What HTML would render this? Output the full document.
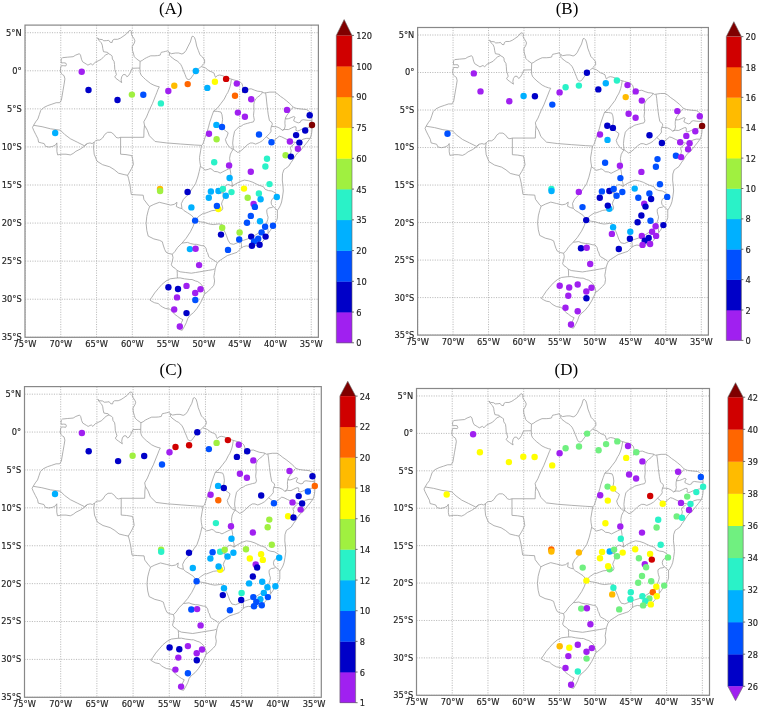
<!DOCTYPE html>
<html><head><meta charset="utf-8"><title>Brazil maps</title>
<style>html,body{margin:0;padding:0;background:#fff;width:760px;height:710px;overflow:hidden}svg{display:block}</style>
</head><body>
<svg width="760" height="710" viewBox="0 0 760 710">
<clipPath id="clipA"><rect x="25.0" y="25.1" width="293.4" height="312.2"/></clipPath>
<path d="M25.00 25.10V337.30M60.78 25.10V337.30M96.56 25.10V337.30M132.34 25.10V337.30M168.12 25.10V337.30M203.90 25.10V337.30M239.68 25.10V337.30M275.46 25.10V337.30M311.24 25.10V337.30M25.00 32.71H318.40M25.00 70.79H318.40M25.00 108.86H318.40M25.00 146.93H318.40M25.00 185.01H318.40M25.00 223.08H318.40M25.00 261.15H318.40M25.00 299.23H318.40M25.00 337.30H318.40" stroke="#a8a8a8" stroke-width="0.8" stroke-dasharray="1.1 1.35" fill="none" clip-path="url(#clipA)"/>
<g clip-path="url(#clipA)"><g transform="translate(25.000 25.100) scale(1.00000 1.00000) translate(-25.000 -25.100)"><path d="M108.5 53.6 105.7 54.9 103.8 56.6 101.3 59.3 96.9 61.5 95.2 62.2 92.6 65.1 91.0 63.6 87.9 65.1 86.3 64.1 82.6 61.8 81.5 59.3 80.5 55.1 79.4 53.7 75.7 55.1 73.1 56.7 67.3 57.2 62.5 57.7 61.4 58.8 61.1 60.9 61.4 63.0 63.6 62.8 65.7 63.0 66.4 64.6 65.7 66.0 63.6 65.7 61.4 65.7 60.7 67.3 60.4 70.4 60.9 73.1 62.5 74.6 64.1 75.7 64.9 78.9 64.1 84.2 63.0 90.5 61.4 100.0 59.7 102.7 56.2 102.7 51.9 104.2 47.7 105.6 43.5 107.7 40.7 110.5 39.3 114.7 37.9 118.9 35.7 121.8 33.6 125.3 32.5 127.4 33.6 130.2 35.7 134.4 37.9 138.7 38.6 142.2 41.4 142.9 44.2 143.6 45.6 146.4 49.1 147.1 52.6 146.4 55.5 145.0 56.9 142.9 56.9 147.1 56.9 151.3 57.6 154.9 61.8 154.2 66.0 154.2 70.3 154.9 73.1 153.5 75.9 151.3 80.1 149.2 84.3 146.4 87.2 143.6 90.0 142.9 92.1 143.6 94.2 142.2 93.5 147.1 94.2 154.2 97.0 161.2 102.6 164.7 109.7 166.8 114.2 169.6 118.5 173.2 124.1 174.6 127.6 175.3 128.5 178.3 129.9 184.6 130.6 189.6 131.3 194.5 136.9 194.9 143.2 195.2 143.9 199.4 148.2 205.1 149.6 206.5 148.2 210.7 146.8 216.3 146.1 223.4 146.8 230.4 148.2 236.1 153.8 238.9 159.4 240.3 162.3 241.7 163.2 245.0 164.6 249.3 166.0 252.1 168.8 253.5 172.3 254.2 173.0 257.7 172.3 261.2 171.3 264.8 172.7 266.9 175.1 268.3 177.0 270.4 177.3 273.2 177.3 276.7 177.5 278.0 175.8 278.1 170.2 278.8 166.0 281.0 161.8 284.5 158.2 288.7 154.7 292.9 151.9 297.2 149.8 300.0 151.9 301.4 154.7 302.8 158.2 303.5 160.4 305.6 162.5 307.0 165.3 308.4 169.5 309.1 172.3 311.2 174.4 314.1 177.3 316.2 180.1 318.3 182.9 319.7 181.5 322.5 179.4 329.5M108.5 53.6 107.7 52.4 103.5 51.7 102.8 48.7 102.3 45.2 101.3 42.8 99.3 40.8 97.4 37.9M97.4 37.9 99.3 39.3 102.3 39.6 103.8 40.8 106.7 40.6 108.7 40.3 110.2 42.3 112.1 42.5 112.6 40.3 114.1 39.3 117.6 39.3 120.5 38.1 123.0 36.4 126.4 34.0 129.0 30.8 130.6 30.5 131.7 31.9 131.5 34.5 132.2 36.1 133.8 38.2 134.9 40.8 134.3 43.0 132.2 46.7 132.5 50.4 133.6 54.0 134.3 56.7 136.4 58.8 140.1 61.4M140.1 61.4 142.3 60.4 144.4 58.8 146.5 57.7 148.6 56.7 150.7 55.8 154.9 55.8 157.6 55.6 160.2 55.1 160.7 53.5 161.3 52.3 163.4 51.9 165.5 51.4 167.6 50.9 169.5 52.5M169.5 52.5 171.3 53.7 175.6 53.0 178.7 53.0 181.9 54.0 184.0 53.0 186.1 50.4 188.2 46.1 190.4 41.9 191.9 36.6 193.0 36.1 194.6 37.7 195.6 40.8 196.7 46.1 198.3 50.4 199.9 54.6 201.4 56.2 203.0 57.7 204.6 59.9 204.6 63.0 203.0 64.6 201.4 66.2 199.3 68.3 196.7 70.4 195.1 72.5 193.5 74.6 191.9 76.8 190.4 78.9 188.8 79.6 187.2 79.1 186.1 77.3 185.1 74.6 184.0 72.0 183.0 69.4 181.9 66.7 180.8 64.6 179.3 62.8 177.1 60.9 175.0 59.9 172.9 58.3 170.8 56.7 169.4 55.1 169.5 52.5M201.4 66.7 203.6 67.3 205.7 68.1 207.3 69.4 209.4 71.0 212.0 72.0 214.1 73.1 214.6 75.2 215.5 77.3 217.3 75.7 219.4 75.0 222.0 75.5 224.7 76.5 227.3 77.6 230.0 78.7 233.9 79.9 237.9 81.1 240.3 82.1 242.0 83.8 242.8 86.5 243.0 90.5 242.3 93.0 244.0 91.0 246.5 89.5 249.2 89.0 251.2 88.8 254.6 90.2 257.6 91.2 260.5 91.5 262.5 92.0 264.0 93.0 266.7 92.6 269.9 92.1 274.6 92.1 277.3 93.7 280.4 96.3 283.6 98.5 286.5 100.8 289.3 103.2 291.5 105.3 293.3 107.2 296.2 108.3 300.0 108.9 304.0 109.3 306.6 109.6 308.3 110.6 310.3 112.3 311.3 114.1 311.7 116.9 312.0 119.7 311.7 122.5 311.7 125.4 312.0 128.2 311.9 131.0 311.5 133.8 311.0 136.0 310.2 138.2 309.0 139.8 307.3 142.1 305.0 144.9 302.8 147.7 300.5 150.5 297.7 152.8 295.5 155.6 293.4 159.2 291.0 162.5 288.7 166.2 285.5 168.5 283.9 169.6 282.5 173.8 282.3 180.0 282.9 185.1 283.3 191.0 282.5 196.9 281.6 202.0 280.4 205.4 279.1 207.9 277.4 210.4 277.4 213.8 277.4 218.0 276.6 220.6 275.3 222.3 273.2 225.6 270.2 230.7 267.7 234.1 266.0 237.0 263.2 241.0 260.5 243.5 257.5 245.0 254.7 245.9 251.9 246.3 249.1 246.3 246.3 245.9 243.5 246.6 241.3 248.0 239.2 250.1 237.1 252.3 235.0 253.0 231.5 254.2 227.3 255.6 223.0 258.4 218.8 261.2 216.7 264.0 215.3 268.2 214.6 272.5 213.9 276.7 214.6 280.9 213.9 285.1 211.5 288.0 208.5 290.8 206.1 293.0 204.7 293.6 202.6 298.6 200.5 302.8 197.0 308.4 193.5 312.6 189.9 315.5 187.8 318.3 186.4 322.5 184.3 326.7 182.2 330.3 179.4 329.5M108.5 53.6 111.2 55.1 112.1 56.1 112.4 59.0 114.1 61.5 114.5 64.5 114.8 69.4 115.8 72.5 116.4 74.6 114.8 76.8 115.8 78.3 118.0 79.9 119.5 81.0 121.7 82.6 121.1 79.9 121.7 76.8 123.2 74.6 125.4 74.6 126.9 76.8 128.5 75.7 130.1 73.1 131.2 70.4 132.2 68.3 137.5 68.1 139.9 68.1M140.1 61.4 139.9 68.1M139.9 68.1 140.1 72.5 141.2 75.2 143.3 77.3 145.4 79.4 148.1 81.5 150.7 83.6 153.9 85.2 157.0 86.3 159.3 86.8 158.0 89.4 156.8 92.6 155.5 95.8 152.4 103.7 149.6 109.5 148.0 113.3 146.5 117.0 143.8 121.8 144.5 125.3M144.5 125.3 144.0 130.0 143.8 137.3 120.6 137.3M120.6 137.3 118.1 138.0 116.0 137.3 113.9 134.4 111.1 132.3 107.6 132.3 104.8 134.4 102.6 138.0 99.8 140.1 97.0 140.1 95.6 140.8 94.2 142.2M33.6 125.3 42.1 126.7 50.5 128.8 60.4 130.2 64.6 134.4 70.3 138.7 77.3 142.2 84.3 145.7 87.2 143.6M120.6 137.3 120.6 154.2 126.0 154.6 131.8 155.6 132.5 158.5 133.4 164.5 131.5 168.5 130.2 171.0 127.6 175.3M144.5 125.3 147.3 130.2 149.4 135.8 155.1 141.5 166.3 142.9 180.4 144.0 194.5 145.0 201.5 145.4M231.4 79.4 230.7 83.8 230.0 86.8 229.0 89.7 227.8 92.5 226.5 94.5 224.3 99.0 220.9 103.5 217.5 108.0 213.6 111.2M213.6 111.2 211.9 115.9 209.6 122.7 208.5 127.2 206.8 132.8 205.1 137.3 202.9 144.1 201.5 145.4 200.6 150.8 199.5 157.6 199.8 161.5 200.5 165.8 199.2 171.5 197.8 177.0 195.5 183.8 192.5 188.1 189.8 192.3 187.3 195.3 183.4 199.4 181.3 203.7 182.0 208.6M200.5 166.5 203.0 168.2 205.0 170.1 208.4 169.3 210.1 168.5 211.8 169.3 214.3 171.4 217.7 171.8 220.2 173.1 222.8 171.8 226.1 170.1 228.7 168.9 229.9 168.5M233.3 149.2 231.8 151.3 230.4 154.1 229.6 158.3 230.2 162.5 229.9 168.5M229.9 168.5 230.4 171.0 230.8 173.5 230.6 177.0 231.2 180.3 232.1 182.8 232.5 186.2M149.6 206.5 153.8 204.4 159.4 202.3 165.1 203.7 170.7 205.1 174.2 204.4 177.0 202.3 176.3 206.5 179.2 207.9 182.0 208.6M182.0 208.6 184.1 210.7 187.6 212.8 191.8 215.6 195.2 219.8M195.2 219.8 193.2 226.2 190.4 231.8 186.2 238.2 182.0 243.1 177.7 247.3 174.9 251.5 172.3 254.2M195.2 219.8 199.1 216.1 203.3 213.3 205.0 213.3 208.4 212.0 211.8 210.7 215.1 210.3 218.5 210.3 221.9 210.3 222.8 208.2 222.3 206.1 221.5 204.0 222.3 201.4 223.6 198.9 223.2 196.3 223.2 193.0 224.0 190.0 224.9 187.9 225.3 185.8 227.0 184.9 228.7 184.5 230.4 185.4 232.5 186.2M195.2 220.6 200.5 221.8 204.7 222.5 208.9 223.9 213.2 224.6 218.8 223.9 222.3 224.6 223.0 228.8 225.1 232.3 226.5 235.8 228.0 240.1 230.1 243.6 233.6 244.3 237.1 242.9 239.2 241.7 243.5 240.3 247.7 238.9 250.5 237.5M250.5 237.5 254.3 235.8 258.5 233.0 262.7 230.1 265.6 228.7 267.0 226.0M240.8 241.4 241.5 244.5 241.3 248.0M273.2 206.6 271.9 207.5 269.0 207.9 266.8 209.6 266.8 212.1 267.3 214.7 268.1 217.2 267.7 219.7 266.8 222.3 266.3 224.5 267.0 226.0M273.2 206.6 275.5 208.5 277.4 210.4M267.0 226.0 268.0 229.5 268.1 233.2M231.8 186.5 236.0 183.7 240.2 181.5 244.4 180.1 248.7 180.8 252.9 182.3 258.5 185.1 260.1 185.5 263.5 186.8 265.1 189.3 268.5 190.6 271.9 191.0 274.9 192.7 276.1 194.0 274.0 197.8 271.9 199.4 271.1 202.0 271.5 204.5 273.2 206.6M265.6 92.9 266.2 96.9 266.7 102.1 267.2 106.4 267.7 110.6 268.3 114.8 269.4 120.5 272.0 122.7 272.3 124.4 271.4 126.4M262.5 92.0 262.0 93.2 260.2 95.2 257.4 97.3 255.6 99.0 254.3 101.8 253.8 104.6 254.0 110.5 253.5 115.3 253.9 117.6 254.3 119.9 253.4 121.9 250.5 122.5 247.7 123.3 245.7 123.8 243.5 124.5 241.2 126.1 239.2 126.8 237.2 128.4 234.6 131.3 233.3 137.3 232.7 143.0 233.3 149.2M213.6 111.2 217.5 111.4 220.9 112.0 222.0 114.8 222.6 119.3 222.0 123.8 223.7 129.4 226.0 131.1 228.2 132.8 227.1 136.2 225.4 139.6 226.5 143.0 228.8 146.3 231.1 148.6 233.3 149.2M233.3 149.2 235.6 150.8 237.8 152.5 240.1 151.4 243.5 148.6 246.8 145.2 250.2 143.0 252.8 143.0 255.6 144.1 259.6 142.4 262.4 140.7 264.6 138.5 266.3 136.8 268.0 135.1 269.7 133.4 271.1 131.2 270.8 128.9 271.4 126.4M266.3 136.8 269.2 139.0 271.5 140.8 273.7 140.7 275.9 139.0 279.3 136.2 281.5 136.8 284.9 138.5 287.2 139.6 290.0 141.0 293.0 142.0 296.5 142.6M296.5 142.6 300.5 141.0 302.8 139.3 306.2 138.4 309.5 138.4 310.2 138.2M296.5 142.6 298.5 145.5 300.5 148.5 301.0 150.3M294.5 143.5 293.2 144.9 291.0 146.6 290.4 148.3 291.2 150.5 291.0 152.0 290.3 154.0 291.5 156.0 293.4 159.0M271.4 126.4 274.2 126.6 277.0 126.9 279.9 128.3 282.4 130.3M282.4 130.3 284.4 128.9 285.2 126.0 284.9 123.5 285.0 120.5 285.6 117.6M285.6 117.6 287.0 115.1 289.1 112.3 291.2 109.2 293.0 107.4M285.6 117.6 286.0 119.0 288.4 118.7 291.2 117.6 293.7 116.5 295.1 117.3 294.1 119.0 293.7 120.8 295.5 121.8 298.3 122.9 300.4 122.2 301.1 120.4 303.2 119.7 306.0 120.1 308.8 120.4 311.7 120.4M282.4 130.3 284.9 129.4 288.4 129.6 291.2 128.2 294.1 126.8 295.8 126.8 296.2 128.2 295.8 130.3 297.6 131.0 299.7 130.3 302.5 128.9 305.3 128.2 307.4 127.5 309.5 127.1 311.7 127.1M182.0 243.1 187.6 242.4 190.6 243.6 194.2 244.3 196.3 244.3 201.9 245.7 204.0 245.7 206.1 248.5 206.8 252.0 207.5 252.7 208.9 257.0 209.6 257.7 213.2 259.8 215.3 261.2 216.7 262.6M177.0 270.4 180.1 271.8 185.7 272.5 191.3 273.2 195.6 272.5 199.8 271.8 204.0 271.1 208.2 270.4 212.5 269.7 214.6 268.9M177.5 278.0 180.1 277.9 184.3 278.8 189.9 279.5 192.0 279.5 195.6 281.0 197.7 281.6 199.8 283.1 201.9 285.1 202.6 286.6 204.0 289.4 204.7 292.2 204.7 293.6M216.3 188.8 222.9 188.8 222.9 192.9 216.3 192.9 216.3 188.8" fill="none" stroke="#9c9c9c" stroke-width="0.8" stroke-linejoin="round" vector-effect="non-scaling-stroke"/></g></g>
<g><circle cx="81.7" cy="71.7" r="3.2" fill="#a020f0"/><circle cx="88.5" cy="90.0" r="3.2" fill="#0000c8"/><circle cx="117.5" cy="100.0" r="3.2" fill="#0000c8"/><circle cx="131.9" cy="94.6" r="3.2" fill="#a0f040"/><circle cx="143.3" cy="94.8" r="3.2" fill="#0050ff"/><circle cx="160.9" cy="103.4" r="3.2" fill="#2af2c8"/><circle cx="168.3" cy="91.0" r="3.2" fill="#a020f0"/><circle cx="174.3" cy="85.8" r="3.2" fill="#ffbb00"/><circle cx="187.7" cy="84.1" r="3.2" fill="#ff6600"/><circle cx="195.8" cy="71.0" r="3.2" fill="#00b0ff"/><circle cx="207.3" cy="87.9" r="3.2" fill="#00b0ff"/><circle cx="214.9" cy="81.7" r="3.2" fill="#ffff00"/><circle cx="226.1" cy="78.9" r="3.2" fill="#d00000"/><circle cx="236.8" cy="83.6" r="3.2" fill="#a020f0"/><circle cx="235.0" cy="95.7" r="3.2" fill="#ff6600"/><circle cx="245.1" cy="90.0" r="3.2" fill="#0000c8"/><circle cx="251.2" cy="99.3" r="3.2" fill="#a020f0"/><circle cx="237.9" cy="112.6" r="3.2" fill="#a020f0"/><circle cx="244.9" cy="116.7" r="3.2" fill="#a020f0"/><circle cx="287.0" cy="109.9" r="3.2" fill="#a020f0"/><circle cx="309.7" cy="115.2" r="3.2" fill="#0000c8"/><circle cx="312.0" cy="125.0" r="3.2" fill="#800000"/><circle cx="305.2" cy="130.5" r="3.2" fill="#0000c8"/><circle cx="296.1" cy="135.1" r="3.2" fill="#0000c8"/><circle cx="259.0" cy="134.5" r="3.2" fill="#0050ff"/><circle cx="271.5" cy="142.3" r="3.2" fill="#0050ff"/><circle cx="289.9" cy="141.5" r="3.2" fill="#a020f0"/><circle cx="299.4" cy="142.6" r="3.2" fill="#0000c8"/><circle cx="297.9" cy="148.7" r="3.2" fill="#a020f0"/><circle cx="285.6" cy="155.3" r="3.2" fill="#a0f040"/><circle cx="290.9" cy="156.6" r="3.2" fill="#0000c8"/><circle cx="55.2" cy="133.0" r="3.2" fill="#00b0ff"/><circle cx="216.4" cy="124.9" r="3.2" fill="#00b0ff"/><circle cx="222.0" cy="127.0" r="3.2" fill="#0050ff"/><circle cx="209.0" cy="133.7" r="3.2" fill="#a020f0"/><circle cx="216.6" cy="139.2" r="3.2" fill="#a0f040"/><circle cx="214.2" cy="162.3" r="3.2" fill="#2af2c8"/><circle cx="229.1" cy="165.4" r="3.2" fill="#a020f0"/><circle cx="267.0" cy="158.7" r="3.2" fill="#2af2c8"/><circle cx="265.4" cy="166.5" r="3.2" fill="#2af2c8"/><circle cx="250.8" cy="171.7" r="3.2" fill="#a020f0"/><circle cx="229.6" cy="178.0" r="3.2" fill="#00b0ff"/><circle cx="269.5" cy="184.1" r="3.2" fill="#2af2c8"/><circle cx="244.0" cy="188.6" r="3.2" fill="#ffff00"/><circle cx="210.9" cy="191.5" r="3.2" fill="#00b0ff"/><circle cx="218.5" cy="191.0" r="3.2" fill="#00b0ff"/><circle cx="222.9" cy="189.0" r="3.2" fill="#2af2c8"/><circle cx="231.5" cy="192.1" r="3.2" fill="#2af2c8"/><circle cx="225.8" cy="195.8" r="3.2" fill="#00b0ff"/><circle cx="208.8" cy="197.8" r="3.2" fill="#00b0ff"/><circle cx="258.9" cy="193.5" r="3.2" fill="#2af2c8"/><circle cx="247.7" cy="197.8" r="3.2" fill="#a0f040"/><circle cx="260.6" cy="199.2" r="3.2" fill="#00b0ff"/><circle cx="276.8" cy="197.0" r="3.2" fill="#00b0ff"/><circle cx="253.6" cy="203.9" r="3.2" fill="#a020f0"/><circle cx="254.9" cy="206.9" r="3.2" fill="#0050ff"/><circle cx="218.4" cy="209.1" r="3.2" fill="#ffff00"/><circle cx="216.9" cy="205.9" r="3.2" fill="#0050ff"/><circle cx="191.4" cy="207.4" r="3.2" fill="#00b0ff"/><circle cx="187.6" cy="192.0" r="3.2" fill="#0000c8"/><circle cx="160.0" cy="188.9" r="3.2" fill="#ffbb00"/><circle cx="160.1" cy="191.0" r="3.2" fill="#a0f040"/><circle cx="195.1" cy="220.6" r="3.2" fill="#0050ff"/><circle cx="250.8" cy="215.9" r="3.2" fill="#0050ff"/><circle cx="247.0" cy="222.8" r="3.2" fill="#0050ff"/><circle cx="260.0" cy="221.2" r="3.2" fill="#00b0ff"/><circle cx="265.1" cy="226.8" r="3.2" fill="#0050ff"/><circle cx="273.0" cy="225.7" r="3.2" fill="#0050ff"/><circle cx="222.2" cy="227.8" r="3.2" fill="#a0f040"/><circle cx="221.0" cy="234.6" r="3.2" fill="#0000c8"/><circle cx="239.6" cy="232.5" r="3.2" fill="#a0f040"/><circle cx="239.2" cy="239.5" r="3.2" fill="#0050ff"/><circle cx="261.6" cy="232.4" r="3.2" fill="#0050ff"/><circle cx="251.2" cy="236.6" r="3.2" fill="#0000c8"/><circle cx="258.2" cy="238.7" r="3.2" fill="#0050ff"/><circle cx="265.6" cy="236.6" r="3.2" fill="#0000c8"/><circle cx="254.1" cy="241.5" r="3.2" fill="#0050ff"/><circle cx="251.9" cy="245.8" r="3.2" fill="#0000c8"/><circle cx="259.6" cy="244.8" r="3.2" fill="#0000c8"/><circle cx="228.0" cy="249.9" r="3.2" fill="#0050ff"/><circle cx="189.9" cy="249.1" r="3.2" fill="#00b0ff"/><circle cx="195.6" cy="248.7" r="3.2" fill="#a020f0"/><circle cx="199.1" cy="265.1" r="3.2" fill="#a020f0"/><circle cx="168.4" cy="287.3" r="3.2" fill="#0000c8"/><circle cx="178.0" cy="289.0" r="3.2" fill="#0000c8"/><circle cx="186.5" cy="285.9" r="3.2" fill="#a020f0"/><circle cx="200.5" cy="289.3" r="3.2" fill="#a020f0"/><circle cx="195.2" cy="293.0" r="3.2" fill="#a020f0"/><circle cx="177.0" cy="297.4" r="3.2" fill="#a020f0"/><circle cx="195.3" cy="300.0" r="3.2" fill="#0050ff"/><circle cx="174.2" cy="309.5" r="3.2" fill="#a020f0"/><circle cx="186.5" cy="313.1" r="3.2" fill="#0000c8"/><circle cx="179.8" cy="326.5" r="3.2" fill="#a020f0"/></g>
<rect x="25.0" y="25.1" width="293.4" height="312.2" fill="none" stroke="#888888" stroke-width="1.2"/>
<g font-family="'DejaVu Sans Condensed', 'DejaVu Sans', sans-serif" font-size="9.2" font-stretch="condensed" fill="#222" stroke="#222" stroke-width="0.15"><text x="21.7" y="35.6" text-anchor="end">5°N</text><text x="21.7" y="73.7" text-anchor="end">0°</text><text x="21.7" y="111.8" text-anchor="end">5°S</text><text x="21.7" y="149.8" text-anchor="end">10°S</text><text x="21.7" y="187.9" text-anchor="end">15°S</text><text x="21.7" y="226.0" text-anchor="end">20°S</text><text x="21.7" y="264.1" text-anchor="end">25°S</text><text x="21.7" y="302.1" text-anchor="end">30°S</text><text x="21.7" y="340.2" text-anchor="end">35°S</text><text x="25.0" y="347.3" text-anchor="middle">75°W</text><text x="60.8" y="347.3" text-anchor="middle">70°W</text><text x="96.6" y="347.3" text-anchor="middle">65°W</text><text x="132.3" y="347.3" text-anchor="middle">60°W</text><text x="168.1" y="347.3" text-anchor="middle">55°W</text><text x="203.9" y="347.3" text-anchor="middle">50°W</text><text x="239.7" y="347.3" text-anchor="middle">45°W</text><text x="275.5" y="347.3" text-anchor="middle">40°W</text><text x="311.2" y="347.3" text-anchor="middle">35°W</text></g>
<text transform="translate(170.7 13.5) scale(0.96 1)" text-anchor="middle" font-family="'Liberation Serif', 'DejaVu Serif', serif" font-size="17.7" fill="#000">(A)</text>
<rect x="336.3" y="312.06" width="15.70" height="31.04" fill="#a020f0"/><rect x="336.3" y="281.32" width="15.70" height="31.04" fill="#0000c8"/><rect x="336.3" y="250.58" width="15.70" height="31.04" fill="#0050ff"/><rect x="336.3" y="219.84" width="15.70" height="31.04" fill="#00b0ff"/><rect x="336.3" y="189.10" width="15.70" height="31.04" fill="#2af2c8"/><rect x="336.3" y="158.36" width="15.70" height="31.04" fill="#a0f040"/><rect x="336.3" y="127.62" width="15.70" height="31.04" fill="#ffff00"/><rect x="336.3" y="96.88" width="15.70" height="31.04" fill="#ffbb00"/><rect x="336.3" y="66.14" width="15.70" height="31.04" fill="#ff6600"/><rect x="336.3" y="35.40" width="15.70" height="31.04" fill="#d00000"/><polygon points="336.3,35.40 352.0,35.40 344.15,19.6" fill="#800000"/><polygon points="336.3,35.4 344.15,19.6 352.0,35.4 352.0,342.8 336.3,342.8" fill="none" stroke="#666" stroke-width="0.6"/><path d="M352.00 342.80h2M352.00 312.06h2M352.00 281.32h2M352.00 250.58h2M352.00 219.84h2M352.00 189.10h2M352.00 158.36h2M352.00 127.62h2M352.00 96.88h2M352.00 66.14h2M352.00 35.40h2" stroke="#333" stroke-width="0.7"/><g font-family="'DejaVu Sans Condensed', 'DejaVu Sans', sans-serif" font-size="9.2" font-stretch="condensed" fill="#222" stroke="#222" stroke-width="0.15"><text x="356.2" y="346.3">0</text><text x="356.2" y="315.6">6</text><text x="356.2" y="284.8">10</text><text x="356.2" y="254.1">20</text><text x="356.2" y="223.3">35</text><text x="356.2" y="192.6">45</text><text x="356.2" y="161.9">60</text><text x="356.2" y="131.1">75</text><text x="356.2" y="100.4">90</text><text x="356.2" y="69.6">100</text><text x="356.2" y="38.9">120</text></g>
<clipPath id="clipB"><rect x="417.6" y="27.5" width="290.79999999999995" height="307.6"/></clipPath>
<path d="M417.60 27.50V335.10M453.06 27.50V335.10M488.53 27.50V335.10M523.99 27.50V335.10M559.45 27.50V335.10M594.92 27.50V335.10M630.38 27.50V335.10M665.84 27.50V335.10M701.31 27.50V335.10M417.60 35.00H708.40M417.60 72.51H708.40M417.60 110.03H708.40M417.60 147.54H708.40M417.60 185.05H708.40M417.60 222.56H708.40M417.60 260.08H708.40M417.60 297.59H708.40M417.60 335.10H708.40" stroke="#a8a8a8" stroke-width="0.8" stroke-dasharray="1.1 1.35" fill="none" clip-path="url(#clipB)"/>
<g clip-path="url(#clipB)"><g transform="translate(417.600 27.500) scale(0.99114 0.98527) translate(-25.000 -25.100)"><path d="M108.5 53.6 105.7 54.9 103.8 56.6 101.3 59.3 96.9 61.5 95.2 62.2 92.6 65.1 91.0 63.6 87.9 65.1 86.3 64.1 82.6 61.8 81.5 59.3 80.5 55.1 79.4 53.7 75.7 55.1 73.1 56.7 67.3 57.2 62.5 57.7 61.4 58.8 61.1 60.9 61.4 63.0 63.6 62.8 65.7 63.0 66.4 64.6 65.7 66.0 63.6 65.7 61.4 65.7 60.7 67.3 60.4 70.4 60.9 73.1 62.5 74.6 64.1 75.7 64.9 78.9 64.1 84.2 63.0 90.5 61.4 100.0 59.7 102.7 56.2 102.7 51.9 104.2 47.7 105.6 43.5 107.7 40.7 110.5 39.3 114.7 37.9 118.9 35.7 121.8 33.6 125.3 32.5 127.4 33.6 130.2 35.7 134.4 37.9 138.7 38.6 142.2 41.4 142.9 44.2 143.6 45.6 146.4 49.1 147.1 52.6 146.4 55.5 145.0 56.9 142.9 56.9 147.1 56.9 151.3 57.6 154.9 61.8 154.2 66.0 154.2 70.3 154.9 73.1 153.5 75.9 151.3 80.1 149.2 84.3 146.4 87.2 143.6 90.0 142.9 92.1 143.6 94.2 142.2 93.5 147.1 94.2 154.2 97.0 161.2 102.6 164.7 109.7 166.8 114.2 169.6 118.5 173.2 124.1 174.6 127.6 175.3 128.5 178.3 129.9 184.6 130.6 189.6 131.3 194.5 136.9 194.9 143.2 195.2 143.9 199.4 148.2 205.1 149.6 206.5 148.2 210.7 146.8 216.3 146.1 223.4 146.8 230.4 148.2 236.1 153.8 238.9 159.4 240.3 162.3 241.7 163.2 245.0 164.6 249.3 166.0 252.1 168.8 253.5 172.3 254.2 173.0 257.7 172.3 261.2 171.3 264.8 172.7 266.9 175.1 268.3 177.0 270.4 177.3 273.2 177.3 276.7 177.5 278.0 175.8 278.1 170.2 278.8 166.0 281.0 161.8 284.5 158.2 288.7 154.7 292.9 151.9 297.2 149.8 300.0 151.9 301.4 154.7 302.8 158.2 303.5 160.4 305.6 162.5 307.0 165.3 308.4 169.5 309.1 172.3 311.2 174.4 314.1 177.3 316.2 180.1 318.3 182.9 319.7 181.5 322.5 179.4 329.5M108.5 53.6 107.7 52.4 103.5 51.7 102.8 48.7 102.3 45.2 101.3 42.8 99.3 40.8 97.4 37.9M97.4 37.9 99.3 39.3 102.3 39.6 103.8 40.8 106.7 40.6 108.7 40.3 110.2 42.3 112.1 42.5 112.6 40.3 114.1 39.3 117.6 39.3 120.5 38.1 123.0 36.4 126.4 34.0 129.0 30.8 130.6 30.5 131.7 31.9 131.5 34.5 132.2 36.1 133.8 38.2 134.9 40.8 134.3 43.0 132.2 46.7 132.5 50.4 133.6 54.0 134.3 56.7 136.4 58.8 140.1 61.4M140.1 61.4 142.3 60.4 144.4 58.8 146.5 57.7 148.6 56.7 150.7 55.8 154.9 55.8 157.6 55.6 160.2 55.1 160.7 53.5 161.3 52.3 163.4 51.9 165.5 51.4 167.6 50.9 169.5 52.5M169.5 52.5 171.3 53.7 175.6 53.0 178.7 53.0 181.9 54.0 184.0 53.0 186.1 50.4 188.2 46.1 190.4 41.9 191.9 36.6 193.0 36.1 194.6 37.7 195.6 40.8 196.7 46.1 198.3 50.4 199.9 54.6 201.4 56.2 203.0 57.7 204.6 59.9 204.6 63.0 203.0 64.6 201.4 66.2 199.3 68.3 196.7 70.4 195.1 72.5 193.5 74.6 191.9 76.8 190.4 78.9 188.8 79.6 187.2 79.1 186.1 77.3 185.1 74.6 184.0 72.0 183.0 69.4 181.9 66.7 180.8 64.6 179.3 62.8 177.1 60.9 175.0 59.9 172.9 58.3 170.8 56.7 169.4 55.1 169.5 52.5M201.4 66.7 203.6 67.3 205.7 68.1 207.3 69.4 209.4 71.0 212.0 72.0 214.1 73.1 214.6 75.2 215.5 77.3 217.3 75.7 219.4 75.0 222.0 75.5 224.7 76.5 227.3 77.6 230.0 78.7 233.9 79.9 237.9 81.1 240.3 82.1 242.0 83.8 242.8 86.5 243.0 90.5 242.3 93.0 244.0 91.0 246.5 89.5 249.2 89.0 251.2 88.8 254.6 90.2 257.6 91.2 260.5 91.5 262.5 92.0 264.0 93.0 266.7 92.6 269.9 92.1 274.6 92.1 277.3 93.7 280.4 96.3 283.6 98.5 286.5 100.8 289.3 103.2 291.5 105.3 293.3 107.2 296.2 108.3 300.0 108.9 304.0 109.3 306.6 109.6 308.3 110.6 310.3 112.3 311.3 114.1 311.7 116.9 312.0 119.7 311.7 122.5 311.7 125.4 312.0 128.2 311.9 131.0 311.5 133.8 311.0 136.0 310.2 138.2 309.0 139.8 307.3 142.1 305.0 144.9 302.8 147.7 300.5 150.5 297.7 152.8 295.5 155.6 293.4 159.2 291.0 162.5 288.7 166.2 285.5 168.5 283.9 169.6 282.5 173.8 282.3 180.0 282.9 185.1 283.3 191.0 282.5 196.9 281.6 202.0 280.4 205.4 279.1 207.9 277.4 210.4 277.4 213.8 277.4 218.0 276.6 220.6 275.3 222.3 273.2 225.6 270.2 230.7 267.7 234.1 266.0 237.0 263.2 241.0 260.5 243.5 257.5 245.0 254.7 245.9 251.9 246.3 249.1 246.3 246.3 245.9 243.5 246.6 241.3 248.0 239.2 250.1 237.1 252.3 235.0 253.0 231.5 254.2 227.3 255.6 223.0 258.4 218.8 261.2 216.7 264.0 215.3 268.2 214.6 272.5 213.9 276.7 214.6 280.9 213.9 285.1 211.5 288.0 208.5 290.8 206.1 293.0 204.7 293.6 202.6 298.6 200.5 302.8 197.0 308.4 193.5 312.6 189.9 315.5 187.8 318.3 186.4 322.5 184.3 326.7 182.2 330.3 179.4 329.5M108.5 53.6 111.2 55.1 112.1 56.1 112.4 59.0 114.1 61.5 114.5 64.5 114.8 69.4 115.8 72.5 116.4 74.6 114.8 76.8 115.8 78.3 118.0 79.9 119.5 81.0 121.7 82.6 121.1 79.9 121.7 76.8 123.2 74.6 125.4 74.6 126.9 76.8 128.5 75.7 130.1 73.1 131.2 70.4 132.2 68.3 137.5 68.1 139.9 68.1M140.1 61.4 139.9 68.1M139.9 68.1 140.1 72.5 141.2 75.2 143.3 77.3 145.4 79.4 148.1 81.5 150.7 83.6 153.9 85.2 157.0 86.3 159.3 86.8 158.0 89.4 156.8 92.6 155.5 95.8 152.4 103.7 149.6 109.5 148.0 113.3 146.5 117.0 143.8 121.8 144.5 125.3M144.5 125.3 144.0 130.0 143.8 137.3 120.6 137.3M120.6 137.3 118.1 138.0 116.0 137.3 113.9 134.4 111.1 132.3 107.6 132.3 104.8 134.4 102.6 138.0 99.8 140.1 97.0 140.1 95.6 140.8 94.2 142.2M33.6 125.3 42.1 126.7 50.5 128.8 60.4 130.2 64.6 134.4 70.3 138.7 77.3 142.2 84.3 145.7 87.2 143.6M120.6 137.3 120.6 154.2 126.0 154.6 131.8 155.6 132.5 158.5 133.4 164.5 131.5 168.5 130.2 171.0 127.6 175.3M144.5 125.3 147.3 130.2 149.4 135.8 155.1 141.5 166.3 142.9 180.4 144.0 194.5 145.0 201.5 145.4M231.4 79.4 230.7 83.8 230.0 86.8 229.0 89.7 227.8 92.5 226.5 94.5 224.3 99.0 220.9 103.5 217.5 108.0 213.6 111.2M213.6 111.2 211.9 115.9 209.6 122.7 208.5 127.2 206.8 132.8 205.1 137.3 202.9 144.1 201.5 145.4 200.6 150.8 199.5 157.6 199.8 161.5 200.5 165.8 199.2 171.5 197.8 177.0 195.5 183.8 192.5 188.1 189.8 192.3 187.3 195.3 183.4 199.4 181.3 203.7 182.0 208.6M200.5 166.5 203.0 168.2 205.0 170.1 208.4 169.3 210.1 168.5 211.8 169.3 214.3 171.4 217.7 171.8 220.2 173.1 222.8 171.8 226.1 170.1 228.7 168.9 229.9 168.5M233.3 149.2 231.8 151.3 230.4 154.1 229.6 158.3 230.2 162.5 229.9 168.5M229.9 168.5 230.4 171.0 230.8 173.5 230.6 177.0 231.2 180.3 232.1 182.8 232.5 186.2M149.6 206.5 153.8 204.4 159.4 202.3 165.1 203.7 170.7 205.1 174.2 204.4 177.0 202.3 176.3 206.5 179.2 207.9 182.0 208.6M182.0 208.6 184.1 210.7 187.6 212.8 191.8 215.6 195.2 219.8M195.2 219.8 193.2 226.2 190.4 231.8 186.2 238.2 182.0 243.1 177.7 247.3 174.9 251.5 172.3 254.2M195.2 219.8 199.1 216.1 203.3 213.3 205.0 213.3 208.4 212.0 211.8 210.7 215.1 210.3 218.5 210.3 221.9 210.3 222.8 208.2 222.3 206.1 221.5 204.0 222.3 201.4 223.6 198.9 223.2 196.3 223.2 193.0 224.0 190.0 224.9 187.9 225.3 185.8 227.0 184.9 228.7 184.5 230.4 185.4 232.5 186.2M195.2 220.6 200.5 221.8 204.7 222.5 208.9 223.9 213.2 224.6 218.8 223.9 222.3 224.6 223.0 228.8 225.1 232.3 226.5 235.8 228.0 240.1 230.1 243.6 233.6 244.3 237.1 242.9 239.2 241.7 243.5 240.3 247.7 238.9 250.5 237.5M250.5 237.5 254.3 235.8 258.5 233.0 262.7 230.1 265.6 228.7 267.0 226.0M240.8 241.4 241.5 244.5 241.3 248.0M273.2 206.6 271.9 207.5 269.0 207.9 266.8 209.6 266.8 212.1 267.3 214.7 268.1 217.2 267.7 219.7 266.8 222.3 266.3 224.5 267.0 226.0M273.2 206.6 275.5 208.5 277.4 210.4M267.0 226.0 268.0 229.5 268.1 233.2M231.8 186.5 236.0 183.7 240.2 181.5 244.4 180.1 248.7 180.8 252.9 182.3 258.5 185.1 260.1 185.5 263.5 186.8 265.1 189.3 268.5 190.6 271.9 191.0 274.9 192.7 276.1 194.0 274.0 197.8 271.9 199.4 271.1 202.0 271.5 204.5 273.2 206.6M265.6 92.9 266.2 96.9 266.7 102.1 267.2 106.4 267.7 110.6 268.3 114.8 269.4 120.5 272.0 122.7 272.3 124.4 271.4 126.4M262.5 92.0 262.0 93.2 260.2 95.2 257.4 97.3 255.6 99.0 254.3 101.8 253.8 104.6 254.0 110.5 253.5 115.3 253.9 117.6 254.3 119.9 253.4 121.9 250.5 122.5 247.7 123.3 245.7 123.8 243.5 124.5 241.2 126.1 239.2 126.8 237.2 128.4 234.6 131.3 233.3 137.3 232.7 143.0 233.3 149.2M213.6 111.2 217.5 111.4 220.9 112.0 222.0 114.8 222.6 119.3 222.0 123.8 223.7 129.4 226.0 131.1 228.2 132.8 227.1 136.2 225.4 139.6 226.5 143.0 228.8 146.3 231.1 148.6 233.3 149.2M233.3 149.2 235.6 150.8 237.8 152.5 240.1 151.4 243.5 148.6 246.8 145.2 250.2 143.0 252.8 143.0 255.6 144.1 259.6 142.4 262.4 140.7 264.6 138.5 266.3 136.8 268.0 135.1 269.7 133.4 271.1 131.2 270.8 128.9 271.4 126.4M266.3 136.8 269.2 139.0 271.5 140.8 273.7 140.7 275.9 139.0 279.3 136.2 281.5 136.8 284.9 138.5 287.2 139.6 290.0 141.0 293.0 142.0 296.5 142.6M296.5 142.6 300.5 141.0 302.8 139.3 306.2 138.4 309.5 138.4 310.2 138.2M296.5 142.6 298.5 145.5 300.5 148.5 301.0 150.3M294.5 143.5 293.2 144.9 291.0 146.6 290.4 148.3 291.2 150.5 291.0 152.0 290.3 154.0 291.5 156.0 293.4 159.0M271.4 126.4 274.2 126.6 277.0 126.9 279.9 128.3 282.4 130.3M282.4 130.3 284.4 128.9 285.2 126.0 284.9 123.5 285.0 120.5 285.6 117.6M285.6 117.6 287.0 115.1 289.1 112.3 291.2 109.2 293.0 107.4M285.6 117.6 286.0 119.0 288.4 118.7 291.2 117.6 293.7 116.5 295.1 117.3 294.1 119.0 293.7 120.8 295.5 121.8 298.3 122.9 300.4 122.2 301.1 120.4 303.2 119.7 306.0 120.1 308.8 120.4 311.7 120.4M282.4 130.3 284.9 129.4 288.4 129.6 291.2 128.2 294.1 126.8 295.8 126.8 296.2 128.2 295.8 130.3 297.6 131.0 299.7 130.3 302.5 128.9 305.3 128.2 307.4 127.5 309.5 127.1 311.7 127.1M182.0 243.1 187.6 242.4 190.6 243.6 194.2 244.3 196.3 244.3 201.9 245.7 204.0 245.7 206.1 248.5 206.8 252.0 207.5 252.7 208.9 257.0 209.6 257.7 213.2 259.8 215.3 261.2 216.7 262.6M177.0 270.4 180.1 271.8 185.7 272.5 191.3 273.2 195.6 272.5 199.8 271.8 204.0 271.1 208.2 270.4 212.5 269.7 214.6 268.9M177.5 278.0 180.1 277.9 184.3 278.8 189.9 279.5 192.0 279.5 195.6 281.0 197.7 281.6 199.8 283.1 201.9 285.1 202.6 286.6 204.0 289.4 204.7 292.2 204.7 293.6M216.3 188.8 222.9 188.8 222.9 192.9 216.3 192.9 216.3 188.8" fill="none" stroke="#9c9c9c" stroke-width="0.8" stroke-linejoin="round" vector-effect="non-scaling-stroke"/></g></g>
<g><circle cx="473.8" cy="73.4" r="3.2" fill="#a020f0"/><circle cx="480.5" cy="91.4" r="3.2" fill="#a020f0"/><circle cx="509.3" cy="101.3" r="3.2" fill="#a020f0"/><circle cx="523.6" cy="96.0" r="3.2" fill="#00b0ff"/><circle cx="534.9" cy="96.2" r="3.2" fill="#0000c8"/><circle cx="552.3" cy="104.6" r="3.2" fill="#0050ff"/><circle cx="559.6" cy="92.4" r="3.2" fill="#a020f0"/><circle cx="565.6" cy="87.3" r="3.2" fill="#2af2c8"/><circle cx="578.9" cy="85.6" r="3.2" fill="#2af2c8"/><circle cx="586.9" cy="72.7" r="3.2" fill="#0000c8"/><circle cx="598.3" cy="89.4" r="3.2" fill="#0000c8"/><circle cx="605.8" cy="83.3" r="3.2" fill="#00b0ff"/><circle cx="616.9" cy="80.5" r="3.2" fill="#2af2c8"/><circle cx="627.5" cy="85.1" r="3.2" fill="#a020f0"/><circle cx="625.7" cy="97.1" r="3.2" fill="#ffbb00"/><circle cx="635.7" cy="91.4" r="3.2" fill="#a020f0"/><circle cx="641.8" cy="100.6" r="3.2" fill="#a020f0"/><circle cx="628.6" cy="113.7" r="3.2" fill="#a020f0"/><circle cx="635.6" cy="117.8" r="3.2" fill="#a020f0"/><circle cx="677.3" cy="111.1" r="3.2" fill="#a020f0"/><circle cx="699.8" cy="116.3" r="3.2" fill="#a020f0"/><circle cx="702.1" cy="125.9" r="3.2" fill="#800000"/><circle cx="695.3" cy="131.3" r="3.2" fill="#a020f0"/><circle cx="686.3" cy="135.9" r="3.2" fill="#a020f0"/><circle cx="649.5" cy="135.3" r="3.2" fill="#0000c8"/><circle cx="661.9" cy="143.0" r="3.2" fill="#0000c8"/><circle cx="680.2" cy="142.2" r="3.2" fill="#a020f0"/><circle cx="689.6" cy="143.3" r="3.2" fill="#a020f0"/><circle cx="688.1" cy="149.3" r="3.2" fill="#a020f0"/><circle cx="675.9" cy="155.8" r="3.2" fill="#0050ff"/><circle cx="681.1" cy="157.1" r="3.2" fill="#a020f0"/><circle cx="447.5" cy="133.8" r="3.2" fill="#0050ff"/><circle cx="607.3" cy="125.8" r="3.2" fill="#0000c8"/><circle cx="612.9" cy="127.9" r="3.2" fill="#0000c8"/><circle cx="600.0" cy="134.5" r="3.2" fill="#a020f0"/><circle cx="607.5" cy="139.9" r="3.2" fill="#00b0ff"/><circle cx="605.1" cy="162.7" r="3.2" fill="#0050ff"/><circle cx="619.9" cy="165.7" r="3.2" fill="#a020f0"/><circle cx="657.5" cy="159.1" r="3.2" fill="#0050ff"/><circle cx="655.9" cy="166.8" r="3.2" fill="#0050ff"/><circle cx="641.4" cy="171.9" r="3.2" fill="#a020f0"/><circle cx="620.4" cy="178.1" r="3.2" fill="#0050ff"/><circle cx="659.9" cy="184.2" r="3.2" fill="#0050ff"/><circle cx="634.7" cy="188.6" r="3.2" fill="#00b0ff"/><circle cx="601.9" cy="191.4" r="3.2" fill="#0050ff"/><circle cx="609.4" cy="191.0" r="3.2" fill="#0000c8"/><circle cx="613.7" cy="189.0" r="3.2" fill="#0050ff"/><circle cx="622.3" cy="192.0" r="3.2" fill="#0050ff"/><circle cx="616.6" cy="195.7" r="3.2" fill="#0050ff"/><circle cx="599.8" cy="197.7" r="3.2" fill="#0000c8"/><circle cx="649.4" cy="193.4" r="3.2" fill="#0050ff"/><circle cx="638.3" cy="197.7" r="3.2" fill="#0050ff"/><circle cx="651.1" cy="199.0" r="3.2" fill="#0000c8"/><circle cx="667.2" cy="196.9" r="3.2" fill="#0050ff"/><circle cx="644.2" cy="203.7" r="3.2" fill="#a020f0"/><circle cx="645.5" cy="206.6" r="3.2" fill="#0000c8"/><circle cx="609.3" cy="208.8" r="3.2" fill="#00b0ff"/><circle cx="607.8" cy="205.6" r="3.2" fill="#0000c8"/><circle cx="582.5" cy="207.1" r="3.2" fill="#0050ff"/><circle cx="578.8" cy="191.9" r="3.2" fill="#a020f0"/><circle cx="551.4" cy="188.9" r="3.2" fill="#2af2c8"/><circle cx="551.5" cy="191.0" r="3.2" fill="#00b0ff"/><circle cx="586.2" cy="220.1" r="3.2" fill="#0000c8"/><circle cx="641.4" cy="215.5" r="3.2" fill="#0000c8"/><circle cx="637.6" cy="222.3" r="3.2" fill="#0000c8"/><circle cx="650.5" cy="220.7" r="3.2" fill="#0050ff"/><circle cx="655.6" cy="226.2" r="3.2" fill="#a020f0"/><circle cx="663.4" cy="225.1" r="3.2" fill="#0000c8"/><circle cx="613.1" cy="227.2" r="3.2" fill="#00b0ff"/><circle cx="611.9" cy="233.9" r="3.2" fill="#a020f0"/><circle cx="630.3" cy="231.8" r="3.2" fill="#00b0ff"/><circle cx="629.9" cy="238.7" r="3.2" fill="#0000c8"/><circle cx="652.1" cy="231.7" r="3.2" fill="#a020f0"/><circle cx="641.8" cy="235.9" r="3.2" fill="#a020f0"/><circle cx="648.7" cy="238.0" r="3.2" fill="#0000c8"/><circle cx="656.1" cy="235.9" r="3.2" fill="#a020f0"/><circle cx="644.7" cy="240.7" r="3.2" fill="#0000c8"/><circle cx="642.5" cy="244.9" r="3.2" fill="#a020f0"/><circle cx="650.1" cy="244.0" r="3.2" fill="#a020f0"/><circle cx="618.8" cy="249.0" r="3.2" fill="#0000c8"/><circle cx="581.0" cy="248.2" r="3.2" fill="#0000c8"/><circle cx="586.7" cy="247.8" r="3.2" fill="#a020f0"/><circle cx="590.2" cy="264.0" r="3.2" fill="#a020f0"/><circle cx="559.7" cy="285.8" r="3.2" fill="#a020f0"/><circle cx="569.2" cy="287.5" r="3.2" fill="#a020f0"/><circle cx="577.7" cy="284.5" r="3.2" fill="#a020f0"/><circle cx="591.5" cy="287.8" r="3.2" fill="#a020f0"/><circle cx="586.3" cy="291.5" r="3.2" fill="#a020f0"/><circle cx="568.3" cy="295.8" r="3.2" fill="#a020f0"/><circle cx="586.4" cy="298.3" r="3.2" fill="#0000c8"/><circle cx="565.5" cy="307.7" r="3.2" fill="#a020f0"/><circle cx="577.7" cy="311.3" r="3.2" fill="#a020f0"/><circle cx="571.0" cy="324.5" r="3.2" fill="#a020f0"/></g>
<rect x="417.6" y="27.5" width="290.79999999999995" height="307.6" fill="none" stroke="#888888" stroke-width="1.2"/>
<g font-family="'DejaVu Sans Condensed', 'DejaVu Sans', sans-serif" font-size="9.2" font-stretch="condensed" fill="#222" stroke="#222" stroke-width="0.15"><text x="414.3" y="37.9" text-anchor="end">5°N</text><text x="414.3" y="75.4" text-anchor="end">0°</text><text x="414.3" y="112.9" text-anchor="end">5°S</text><text x="414.3" y="150.4" text-anchor="end">10°S</text><text x="414.3" y="188.0" text-anchor="end">15°S</text><text x="414.3" y="225.5" text-anchor="end">20°S</text><text x="414.3" y="263.0" text-anchor="end">25°S</text><text x="414.3" y="300.5" text-anchor="end">30°S</text><text x="414.3" y="338.0" text-anchor="end">35°S</text><text x="417.6" y="345.1" text-anchor="middle">75°W</text><text x="453.1" y="345.1" text-anchor="middle">70°W</text><text x="488.5" y="345.1" text-anchor="middle">65°W</text><text x="524.0" y="345.1" text-anchor="middle">60°W</text><text x="559.5" y="345.1" text-anchor="middle">55°W</text><text x="594.9" y="345.1" text-anchor="middle">50°W</text><text x="630.4" y="345.1" text-anchor="middle">45°W</text><text x="665.8" y="345.1" text-anchor="middle">40°W</text><text x="701.3" y="345.1" text-anchor="middle">35°W</text></g>
<text transform="translate(567.0 13.5) scale(0.96 1)" text-anchor="middle" font-family="'Liberation Serif', 'DejaVu Serif', serif" font-size="17.7" fill="#000">(B)</text>
<rect x="726.3" y="310.02" width="15.10" height="30.68" fill="#a020f0"/><rect x="726.3" y="279.64" width="15.10" height="30.68" fill="#0000c8"/><rect x="726.3" y="249.26" width="15.10" height="30.68" fill="#0050ff"/><rect x="726.3" y="218.88" width="15.10" height="30.68" fill="#00b0ff"/><rect x="726.3" y="188.50" width="15.10" height="30.68" fill="#2af2c8"/><rect x="726.3" y="158.12" width="15.10" height="30.68" fill="#a0f040"/><rect x="726.3" y="127.74" width="15.10" height="30.68" fill="#ffff00"/><rect x="726.3" y="97.36" width="15.10" height="30.68" fill="#ffbb00"/><rect x="726.3" y="66.98" width="15.10" height="30.68" fill="#ff6600"/><rect x="726.3" y="36.60" width="15.10" height="30.68" fill="#d00000"/><polygon points="726.3,36.60 741.4,36.60 733.85,21.7" fill="#800000"/><polygon points="726.3,36.6 733.8499999999999,21.7 741.4,36.6 741.4,340.4 726.3,340.4" fill="none" stroke="#666" stroke-width="0.6"/><path d="M741.40 340.40h2M741.40 310.02h2M741.40 279.64h2M741.40 249.26h2M741.40 218.88h2M741.40 188.50h2M741.40 158.12h2M741.40 127.74h2M741.40 97.36h2M741.40 66.98h2M741.40 36.60h2" stroke="#333" stroke-width="0.7"/><g font-family="'DejaVu Sans Condensed', 'DejaVu Sans', sans-serif" font-size="9.2" font-stretch="condensed" fill="#222" stroke="#222" stroke-width="0.15"><text x="745.6" y="343.9">0</text><text x="745.6" y="313.5">2</text><text x="745.6" y="283.1">4</text><text x="745.6" y="252.8">6</text><text x="745.6" y="222.4">8</text><text x="745.6" y="192.0">10</text><text x="745.6" y="161.6">12</text><text x="745.6" y="131.2">14</text><text x="745.6" y="100.9">16</text><text x="745.6" y="70.5">18</text><text x="745.6" y="40.1">20</text></g>
<clipPath id="clipC"><rect x="24.5" y="386.6" width="296.8" height="310.69999999999993"/></clipPath>
<path d="M24.50 386.60V697.30M60.70 386.60V697.30M96.89 386.60V697.30M133.09 386.60V697.30M169.28 386.60V697.30M205.48 386.60V697.30M241.67 386.60V697.30M277.87 386.60V697.30M314.06 386.60V697.30M24.50 394.18H321.30M24.50 432.07H321.30M24.50 469.96H321.30M24.50 507.85H321.30M24.50 545.74H321.30M24.50 583.63H321.30M24.50 621.52H321.30M24.50 659.41H321.30M24.50 697.30H321.30" stroke="#a8a8a8" stroke-width="0.8" stroke-dasharray="1.1 1.35" fill="none" clip-path="url(#clipC)"/>
<g clip-path="url(#clipC)"><g transform="translate(24.500 386.600) scale(1.01159 0.99520) translate(-25.000 -25.100)"><path d="M108.5 53.6 105.7 54.9 103.8 56.6 101.3 59.3 96.9 61.5 95.2 62.2 92.6 65.1 91.0 63.6 87.9 65.1 86.3 64.1 82.6 61.8 81.5 59.3 80.5 55.1 79.4 53.7 75.7 55.1 73.1 56.7 67.3 57.2 62.5 57.7 61.4 58.8 61.1 60.9 61.4 63.0 63.6 62.8 65.7 63.0 66.4 64.6 65.7 66.0 63.6 65.7 61.4 65.7 60.7 67.3 60.4 70.4 60.9 73.1 62.5 74.6 64.1 75.7 64.9 78.9 64.1 84.2 63.0 90.5 61.4 100.0 59.7 102.7 56.2 102.7 51.9 104.2 47.7 105.6 43.5 107.7 40.7 110.5 39.3 114.7 37.9 118.9 35.7 121.8 33.6 125.3 32.5 127.4 33.6 130.2 35.7 134.4 37.9 138.7 38.6 142.2 41.4 142.9 44.2 143.6 45.6 146.4 49.1 147.1 52.6 146.4 55.5 145.0 56.9 142.9 56.9 147.1 56.9 151.3 57.6 154.9 61.8 154.2 66.0 154.2 70.3 154.9 73.1 153.5 75.9 151.3 80.1 149.2 84.3 146.4 87.2 143.6 90.0 142.9 92.1 143.6 94.2 142.2 93.5 147.1 94.2 154.2 97.0 161.2 102.6 164.7 109.7 166.8 114.2 169.6 118.5 173.2 124.1 174.6 127.6 175.3 128.5 178.3 129.9 184.6 130.6 189.6 131.3 194.5 136.9 194.9 143.2 195.2 143.9 199.4 148.2 205.1 149.6 206.5 148.2 210.7 146.8 216.3 146.1 223.4 146.8 230.4 148.2 236.1 153.8 238.9 159.4 240.3 162.3 241.7 163.2 245.0 164.6 249.3 166.0 252.1 168.8 253.5 172.3 254.2 173.0 257.7 172.3 261.2 171.3 264.8 172.7 266.9 175.1 268.3 177.0 270.4 177.3 273.2 177.3 276.7 177.5 278.0 175.8 278.1 170.2 278.8 166.0 281.0 161.8 284.5 158.2 288.7 154.7 292.9 151.9 297.2 149.8 300.0 151.9 301.4 154.7 302.8 158.2 303.5 160.4 305.6 162.5 307.0 165.3 308.4 169.5 309.1 172.3 311.2 174.4 314.1 177.3 316.2 180.1 318.3 182.9 319.7 181.5 322.5 179.4 329.5M108.5 53.6 107.7 52.4 103.5 51.7 102.8 48.7 102.3 45.2 101.3 42.8 99.3 40.8 97.4 37.9M97.4 37.9 99.3 39.3 102.3 39.6 103.8 40.8 106.7 40.6 108.7 40.3 110.2 42.3 112.1 42.5 112.6 40.3 114.1 39.3 117.6 39.3 120.5 38.1 123.0 36.4 126.4 34.0 129.0 30.8 130.6 30.5 131.7 31.9 131.5 34.5 132.2 36.1 133.8 38.2 134.9 40.8 134.3 43.0 132.2 46.7 132.5 50.4 133.6 54.0 134.3 56.7 136.4 58.8 140.1 61.4M140.1 61.4 142.3 60.4 144.4 58.8 146.5 57.7 148.6 56.7 150.7 55.8 154.9 55.8 157.6 55.6 160.2 55.1 160.7 53.5 161.3 52.3 163.4 51.9 165.5 51.4 167.6 50.9 169.5 52.5M169.5 52.5 171.3 53.7 175.6 53.0 178.7 53.0 181.9 54.0 184.0 53.0 186.1 50.4 188.2 46.1 190.4 41.9 191.9 36.6 193.0 36.1 194.6 37.7 195.6 40.8 196.7 46.1 198.3 50.4 199.9 54.6 201.4 56.2 203.0 57.7 204.6 59.9 204.6 63.0 203.0 64.6 201.4 66.2 199.3 68.3 196.7 70.4 195.1 72.5 193.5 74.6 191.9 76.8 190.4 78.9 188.8 79.6 187.2 79.1 186.1 77.3 185.1 74.6 184.0 72.0 183.0 69.4 181.9 66.7 180.8 64.6 179.3 62.8 177.1 60.9 175.0 59.9 172.9 58.3 170.8 56.7 169.4 55.1 169.5 52.5M201.4 66.7 203.6 67.3 205.7 68.1 207.3 69.4 209.4 71.0 212.0 72.0 214.1 73.1 214.6 75.2 215.5 77.3 217.3 75.7 219.4 75.0 222.0 75.5 224.7 76.5 227.3 77.6 230.0 78.7 233.9 79.9 237.9 81.1 240.3 82.1 242.0 83.8 242.8 86.5 243.0 90.5 242.3 93.0 244.0 91.0 246.5 89.5 249.2 89.0 251.2 88.8 254.6 90.2 257.6 91.2 260.5 91.5 262.5 92.0 264.0 93.0 266.7 92.6 269.9 92.1 274.6 92.1 277.3 93.7 280.4 96.3 283.6 98.5 286.5 100.8 289.3 103.2 291.5 105.3 293.3 107.2 296.2 108.3 300.0 108.9 304.0 109.3 306.6 109.6 308.3 110.6 310.3 112.3 311.3 114.1 311.7 116.9 312.0 119.7 311.7 122.5 311.7 125.4 312.0 128.2 311.9 131.0 311.5 133.8 311.0 136.0 310.2 138.2 309.0 139.8 307.3 142.1 305.0 144.9 302.8 147.7 300.5 150.5 297.7 152.8 295.5 155.6 293.4 159.2 291.0 162.5 288.7 166.2 285.5 168.5 283.9 169.6 282.5 173.8 282.3 180.0 282.9 185.1 283.3 191.0 282.5 196.9 281.6 202.0 280.4 205.4 279.1 207.9 277.4 210.4 277.4 213.8 277.4 218.0 276.6 220.6 275.3 222.3 273.2 225.6 270.2 230.7 267.7 234.1 266.0 237.0 263.2 241.0 260.5 243.5 257.5 245.0 254.7 245.9 251.9 246.3 249.1 246.3 246.3 245.9 243.5 246.6 241.3 248.0 239.2 250.1 237.1 252.3 235.0 253.0 231.5 254.2 227.3 255.6 223.0 258.4 218.8 261.2 216.7 264.0 215.3 268.2 214.6 272.5 213.9 276.7 214.6 280.9 213.9 285.1 211.5 288.0 208.5 290.8 206.1 293.0 204.7 293.6 202.6 298.6 200.5 302.8 197.0 308.4 193.5 312.6 189.9 315.5 187.8 318.3 186.4 322.5 184.3 326.7 182.2 330.3 179.4 329.5M108.5 53.6 111.2 55.1 112.1 56.1 112.4 59.0 114.1 61.5 114.5 64.5 114.8 69.4 115.8 72.5 116.4 74.6 114.8 76.8 115.8 78.3 118.0 79.9 119.5 81.0 121.7 82.6 121.1 79.9 121.7 76.8 123.2 74.6 125.4 74.6 126.9 76.8 128.5 75.7 130.1 73.1 131.2 70.4 132.2 68.3 137.5 68.1 139.9 68.1M140.1 61.4 139.9 68.1M139.9 68.1 140.1 72.5 141.2 75.2 143.3 77.3 145.4 79.4 148.1 81.5 150.7 83.6 153.9 85.2 157.0 86.3 159.3 86.8 158.0 89.4 156.8 92.6 155.5 95.8 152.4 103.7 149.6 109.5 148.0 113.3 146.5 117.0 143.8 121.8 144.5 125.3M144.5 125.3 144.0 130.0 143.8 137.3 120.6 137.3M120.6 137.3 118.1 138.0 116.0 137.3 113.9 134.4 111.1 132.3 107.6 132.3 104.8 134.4 102.6 138.0 99.8 140.1 97.0 140.1 95.6 140.8 94.2 142.2M33.6 125.3 42.1 126.7 50.5 128.8 60.4 130.2 64.6 134.4 70.3 138.7 77.3 142.2 84.3 145.7 87.2 143.6M120.6 137.3 120.6 154.2 126.0 154.6 131.8 155.6 132.5 158.5 133.4 164.5 131.5 168.5 130.2 171.0 127.6 175.3M144.5 125.3 147.3 130.2 149.4 135.8 155.1 141.5 166.3 142.9 180.4 144.0 194.5 145.0 201.5 145.4M231.4 79.4 230.7 83.8 230.0 86.8 229.0 89.7 227.8 92.5 226.5 94.5 224.3 99.0 220.9 103.5 217.5 108.0 213.6 111.2M213.6 111.2 211.9 115.9 209.6 122.7 208.5 127.2 206.8 132.8 205.1 137.3 202.9 144.1 201.5 145.4 200.6 150.8 199.5 157.6 199.8 161.5 200.5 165.8 199.2 171.5 197.8 177.0 195.5 183.8 192.5 188.1 189.8 192.3 187.3 195.3 183.4 199.4 181.3 203.7 182.0 208.6M200.5 166.5 203.0 168.2 205.0 170.1 208.4 169.3 210.1 168.5 211.8 169.3 214.3 171.4 217.7 171.8 220.2 173.1 222.8 171.8 226.1 170.1 228.7 168.9 229.9 168.5M233.3 149.2 231.8 151.3 230.4 154.1 229.6 158.3 230.2 162.5 229.9 168.5M229.9 168.5 230.4 171.0 230.8 173.5 230.6 177.0 231.2 180.3 232.1 182.8 232.5 186.2M149.6 206.5 153.8 204.4 159.4 202.3 165.1 203.7 170.7 205.1 174.2 204.4 177.0 202.3 176.3 206.5 179.2 207.9 182.0 208.6M182.0 208.6 184.1 210.7 187.6 212.8 191.8 215.6 195.2 219.8M195.2 219.8 193.2 226.2 190.4 231.8 186.2 238.2 182.0 243.1 177.7 247.3 174.9 251.5 172.3 254.2M195.2 219.8 199.1 216.1 203.3 213.3 205.0 213.3 208.4 212.0 211.8 210.7 215.1 210.3 218.5 210.3 221.9 210.3 222.8 208.2 222.3 206.1 221.5 204.0 222.3 201.4 223.6 198.9 223.2 196.3 223.2 193.0 224.0 190.0 224.9 187.9 225.3 185.8 227.0 184.9 228.7 184.5 230.4 185.4 232.5 186.2M195.2 220.6 200.5 221.8 204.7 222.5 208.9 223.9 213.2 224.6 218.8 223.9 222.3 224.6 223.0 228.8 225.1 232.3 226.5 235.8 228.0 240.1 230.1 243.6 233.6 244.3 237.1 242.9 239.2 241.7 243.5 240.3 247.7 238.9 250.5 237.5M250.5 237.5 254.3 235.8 258.5 233.0 262.7 230.1 265.6 228.7 267.0 226.0M240.8 241.4 241.5 244.5 241.3 248.0M273.2 206.6 271.9 207.5 269.0 207.9 266.8 209.6 266.8 212.1 267.3 214.7 268.1 217.2 267.7 219.7 266.8 222.3 266.3 224.5 267.0 226.0M273.2 206.6 275.5 208.5 277.4 210.4M267.0 226.0 268.0 229.5 268.1 233.2M231.8 186.5 236.0 183.7 240.2 181.5 244.4 180.1 248.7 180.8 252.9 182.3 258.5 185.1 260.1 185.5 263.5 186.8 265.1 189.3 268.5 190.6 271.9 191.0 274.9 192.7 276.1 194.0 274.0 197.8 271.9 199.4 271.1 202.0 271.5 204.5 273.2 206.6M265.6 92.9 266.2 96.9 266.7 102.1 267.2 106.4 267.7 110.6 268.3 114.8 269.4 120.5 272.0 122.7 272.3 124.4 271.4 126.4M262.5 92.0 262.0 93.2 260.2 95.2 257.4 97.3 255.6 99.0 254.3 101.8 253.8 104.6 254.0 110.5 253.5 115.3 253.9 117.6 254.3 119.9 253.4 121.9 250.5 122.5 247.7 123.3 245.7 123.8 243.5 124.5 241.2 126.1 239.2 126.8 237.2 128.4 234.6 131.3 233.3 137.3 232.7 143.0 233.3 149.2M213.6 111.2 217.5 111.4 220.9 112.0 222.0 114.8 222.6 119.3 222.0 123.8 223.7 129.4 226.0 131.1 228.2 132.8 227.1 136.2 225.4 139.6 226.5 143.0 228.8 146.3 231.1 148.6 233.3 149.2M233.3 149.2 235.6 150.8 237.8 152.5 240.1 151.4 243.5 148.6 246.8 145.2 250.2 143.0 252.8 143.0 255.6 144.1 259.6 142.4 262.4 140.7 264.6 138.5 266.3 136.8 268.0 135.1 269.7 133.4 271.1 131.2 270.8 128.9 271.4 126.4M266.3 136.8 269.2 139.0 271.5 140.8 273.7 140.7 275.9 139.0 279.3 136.2 281.5 136.8 284.9 138.5 287.2 139.6 290.0 141.0 293.0 142.0 296.5 142.6M296.5 142.6 300.5 141.0 302.8 139.3 306.2 138.4 309.5 138.4 310.2 138.2M296.5 142.6 298.5 145.5 300.5 148.5 301.0 150.3M294.5 143.5 293.2 144.9 291.0 146.6 290.4 148.3 291.2 150.5 291.0 152.0 290.3 154.0 291.5 156.0 293.4 159.0M271.4 126.4 274.2 126.6 277.0 126.9 279.9 128.3 282.4 130.3M282.4 130.3 284.4 128.9 285.2 126.0 284.9 123.5 285.0 120.5 285.6 117.6M285.6 117.6 287.0 115.1 289.1 112.3 291.2 109.2 293.0 107.4M285.6 117.6 286.0 119.0 288.4 118.7 291.2 117.6 293.7 116.5 295.1 117.3 294.1 119.0 293.7 120.8 295.5 121.8 298.3 122.9 300.4 122.2 301.1 120.4 303.2 119.7 306.0 120.1 308.8 120.4 311.7 120.4M282.4 130.3 284.9 129.4 288.4 129.6 291.2 128.2 294.1 126.8 295.8 126.8 296.2 128.2 295.8 130.3 297.6 131.0 299.7 130.3 302.5 128.9 305.3 128.2 307.4 127.5 309.5 127.1 311.7 127.1M182.0 243.1 187.6 242.4 190.6 243.6 194.2 244.3 196.3 244.3 201.9 245.7 204.0 245.7 206.1 248.5 206.8 252.0 207.5 252.7 208.9 257.0 209.6 257.7 213.2 259.8 215.3 261.2 216.7 262.6M177.0 270.4 180.1 271.8 185.7 272.5 191.3 273.2 195.6 272.5 199.8 271.8 204.0 271.1 208.2 270.4 212.5 269.7 214.6 268.9M177.5 278.0 180.1 277.9 184.3 278.8 189.9 279.5 192.0 279.5 195.6 281.0 197.7 281.6 199.8 283.1 201.9 285.1 202.6 286.6 204.0 289.4 204.7 292.2 204.7 293.6M216.3 188.8 222.9 188.8 222.9 192.9 216.3 192.9 216.3 188.8" fill="none" stroke="#9c9c9c" stroke-width="0.8" stroke-linejoin="round" vector-effect="non-scaling-stroke"/></g></g>
<g><circle cx="81.9" cy="433.0" r="3.2" fill="#a020f0"/><circle cx="88.7" cy="451.2" r="3.2" fill="#0000c8"/><circle cx="118.1" cy="461.1" r="3.2" fill="#0000c8"/><circle cx="132.6" cy="455.8" r="3.2" fill="#a0f040"/><circle cx="144.2" cy="456.0" r="3.2" fill="#0000c8"/><circle cx="162.0" cy="464.5" r="3.2" fill="#0050ff"/><circle cx="169.5" cy="452.2" r="3.2" fill="#a020f0"/><circle cx="175.5" cy="447.0" r="3.2" fill="#d00000"/><circle cx="189.1" cy="445.3" r="3.2" fill="#d00000"/><circle cx="197.3" cy="432.3" r="3.2" fill="#0000c8"/><circle cx="208.9" cy="449.1" r="3.2" fill="#0050ff"/><circle cx="216.6" cy="442.9" r="3.2" fill="#a0f040"/><circle cx="227.9" cy="440.1" r="3.2" fill="#d00000"/><circle cx="238.8" cy="444.8" r="3.2" fill="#a020f0"/><circle cx="236.9" cy="456.9" r="3.2" fill="#0000c8"/><circle cx="247.2" cy="451.2" r="3.2" fill="#0000c8"/><circle cx="253.3" cy="460.4" r="3.2" fill="#a020f0"/><circle cx="239.9" cy="473.7" r="3.2" fill="#a020f0"/><circle cx="246.9" cy="477.8" r="3.2" fill="#a020f0"/><circle cx="289.5" cy="471.0" r="3.2" fill="#a020f0"/><circle cx="312.5" cy="476.3" r="3.2" fill="#0000c8"/><circle cx="314.8" cy="486.0" r="3.2" fill="#ff6600"/><circle cx="307.9" cy="491.5" r="3.2" fill="#0050ff"/><circle cx="298.7" cy="496.1" r="3.2" fill="#0000c8"/><circle cx="261.2" cy="495.5" r="3.2" fill="#0000c8"/><circle cx="273.9" cy="503.2" r="3.2" fill="#0050ff"/><circle cx="292.5" cy="502.4" r="3.2" fill="#a020f0"/><circle cx="302.1" cy="503.5" r="3.2" fill="#0000c8"/><circle cx="300.6" cy="509.6" r="3.2" fill="#a020f0"/><circle cx="288.1" cy="516.2" r="3.2" fill="#ffff00"/><circle cx="293.5" cy="517.5" r="3.2" fill="#0000c8"/><circle cx="55.0" cy="494.0" r="3.2" fill="#00b0ff"/><circle cx="218.1" cy="485.9" r="3.2" fill="#00b0ff"/><circle cx="223.8" cy="488.0" r="3.2" fill="#0000c8"/><circle cx="210.6" cy="494.7" r="3.2" fill="#a020f0"/><circle cx="218.3" cy="500.2" r="3.2" fill="#ff6600"/><circle cx="215.9" cy="523.1" r="3.2" fill="#2af2c8"/><circle cx="231.0" cy="526.2" r="3.2" fill="#a020f0"/><circle cx="269.3" cy="519.6" r="3.2" fill="#a0f040"/><circle cx="267.7" cy="527.3" r="3.2" fill="#a0f040"/><circle cx="252.9" cy="532.5" r="3.2" fill="#a020f0"/><circle cx="231.5" cy="538.8" r="3.2" fill="#00b0ff"/><circle cx="271.8" cy="544.8" r="3.2" fill="#a0f040"/><circle cx="246.0" cy="549.3" r="3.2" fill="#a0f040"/><circle cx="212.6" cy="552.2" r="3.2" fill="#0050ff"/><circle cx="220.2" cy="551.7" r="3.2" fill="#2af2c8"/><circle cx="224.7" cy="549.7" r="3.2" fill="#a0f040"/><circle cx="233.4" cy="552.8" r="3.2" fill="#00b0ff"/><circle cx="227.6" cy="556.5" r="3.2" fill="#00b0ff"/><circle cx="210.4" cy="558.5" r="3.2" fill="#00b0ff"/><circle cx="261.1" cy="554.2" r="3.2" fill="#ffff00"/><circle cx="249.8" cy="558.5" r="3.2" fill="#ffff00"/><circle cx="262.8" cy="559.9" r="3.2" fill="#ffff00"/><circle cx="279.2" cy="557.7" r="3.2" fill="#00b0ff"/><circle cx="255.7" cy="564.5" r="3.2" fill="#a020f0"/><circle cx="257.1" cy="567.5" r="3.2" fill="#0000c8"/><circle cx="220.1" cy="569.7" r="3.2" fill="#ffff00"/><circle cx="218.6" cy="566.5" r="3.2" fill="#00b0ff"/><circle cx="192.8" cy="568.0" r="3.2" fill="#00b0ff"/><circle cx="189.0" cy="552.7" r="3.2" fill="#0000c8"/><circle cx="161.1" cy="549.6" r="3.2" fill="#a0f040"/><circle cx="161.2" cy="551.7" r="3.2" fill="#2af2c8"/><circle cx="196.6" cy="581.2" r="3.2" fill="#0050ff"/><circle cx="252.9" cy="576.5" r="3.2" fill="#0000c8"/><circle cx="249.1" cy="583.4" r="3.2" fill="#00b0ff"/><circle cx="262.2" cy="581.8" r="3.2" fill="#00b0ff"/><circle cx="267.4" cy="587.3" r="3.2" fill="#00b0ff"/><circle cx="275.4" cy="586.2" r="3.2" fill="#00b0ff"/><circle cx="224.0" cy="588.3" r="3.2" fill="#00b0ff"/><circle cx="222.8" cy="595.1" r="3.2" fill="#0000c8"/><circle cx="241.6" cy="593.0" r="3.2" fill="#2af2c8"/><circle cx="241.2" cy="600.0" r="3.2" fill="#0000c8"/><circle cx="263.8" cy="592.9" r="3.2" fill="#00b0ff"/><circle cx="253.3" cy="597.1" r="3.2" fill="#0050ff"/><circle cx="260.4" cy="599.2" r="3.2" fill="#00b0ff"/><circle cx="267.9" cy="597.1" r="3.2" fill="#0050ff"/><circle cx="256.3" cy="602.0" r="3.2" fill="#0050ff"/><circle cx="254.0" cy="606.2" r="3.2" fill="#0050ff"/><circle cx="261.8" cy="605.2" r="3.2" fill="#0050ff"/><circle cx="229.9" cy="610.3" r="3.2" fill="#0050ff"/><circle cx="191.3" cy="609.5" r="3.2" fill="#0050ff"/><circle cx="197.1" cy="609.1" r="3.2" fill="#a020f0"/><circle cx="200.6" cy="625.4" r="3.2" fill="#a020f0"/><circle cx="169.6" cy="647.5" r="3.2" fill="#0000c8"/><circle cx="179.3" cy="649.2" r="3.2" fill="#0000c8"/><circle cx="187.9" cy="646.1" r="3.2" fill="#a020f0"/><circle cx="202.0" cy="649.5" r="3.2" fill="#a020f0"/><circle cx="196.7" cy="653.2" r="3.2" fill="#a020f0"/><circle cx="178.3" cy="657.6" r="3.2" fill="#a020f0"/><circle cx="196.8" cy="660.2" r="3.2" fill="#0000c8"/><circle cx="175.4" cy="669.6" r="3.2" fill="#a020f0"/><circle cx="187.9" cy="673.2" r="3.2" fill="#0050ff"/><circle cx="181.1" cy="686.6" r="3.2" fill="#a020f0"/></g>
<rect x="24.5" y="386.6" width="296.8" height="310.69999999999993" fill="none" stroke="#888888" stroke-width="1.2"/>
<g font-family="'DejaVu Sans Condensed', 'DejaVu Sans', sans-serif" font-size="9.2" font-stretch="condensed" fill="#222" stroke="#222" stroke-width="0.15"><text x="21.2" y="397.1" text-anchor="end">5°N</text><text x="21.2" y="435.0" text-anchor="end">0°</text><text x="21.2" y="472.9" text-anchor="end">5°S</text><text x="21.2" y="510.7" text-anchor="end">10°S</text><text x="21.2" y="548.6" text-anchor="end">15°S</text><text x="21.2" y="586.5" text-anchor="end">20°S</text><text x="21.2" y="624.4" text-anchor="end">25°S</text><text x="21.2" y="662.3" text-anchor="end">30°S</text><text x="21.2" y="700.2" text-anchor="end">35°S</text><text x="24.5" y="707.3" text-anchor="middle">75°W</text><text x="60.7" y="707.3" text-anchor="middle">70°W</text><text x="96.9" y="707.3" text-anchor="middle">65°W</text><text x="133.1" y="707.3" text-anchor="middle">60°W</text><text x="169.3" y="707.3" text-anchor="middle">55°W</text><text x="205.5" y="707.3" text-anchor="middle">50°W</text><text x="241.7" y="707.3" text-anchor="middle">45°W</text><text x="277.9" y="707.3" text-anchor="middle">40°W</text><text x="314.1" y="707.3" text-anchor="middle">35°W</text></g>
<text transform="translate(170.9 375.0) scale(0.96 1)" text-anchor="middle" font-family="'Liberation Serif', 'DejaVu Serif', serif" font-size="17.7" fill="#000">(C)</text>
<rect x="339.9" y="672.04" width="15.70" height="30.96" fill="#a020f0"/><rect x="339.9" y="641.38" width="15.70" height="30.96" fill="#0000c8"/><rect x="339.9" y="610.72" width="15.70" height="30.96" fill="#0050ff"/><rect x="339.9" y="580.06" width="15.70" height="30.96" fill="#00b0ff"/><rect x="339.9" y="549.40" width="15.70" height="30.96" fill="#2af2c8"/><rect x="339.9" y="518.74" width="15.70" height="30.96" fill="#a0f040"/><rect x="339.9" y="488.08" width="15.70" height="30.96" fill="#ffff00"/><rect x="339.9" y="457.42" width="15.70" height="30.96" fill="#ffbb00"/><rect x="339.9" y="426.76" width="15.70" height="30.96" fill="#ff6600"/><rect x="339.9" y="396.10" width="15.70" height="30.96" fill="#d00000"/><polygon points="339.9,396.10 355.6,396.10 347.75,381.2" fill="#800000"/><polygon points="339.9,396.1 347.75,381.2 355.6,396.1 355.6,702.7 339.9,702.7" fill="none" stroke="#666" stroke-width="0.6"/><path d="M355.60 702.70h2M355.60 672.04h2M355.60 641.38h2M355.60 610.72h2M355.60 580.06h2M355.60 549.40h2M355.60 518.74h2M355.60 488.08h2M355.60 457.42h2M355.60 426.76h2M355.60 396.10h2" stroke="#333" stroke-width="0.7"/><g font-family="'DejaVu Sans Condensed', 'DejaVu Sans', sans-serif" font-size="9.2" font-stretch="condensed" fill="#222" stroke="#222" stroke-width="0.15"><text x="359.8" y="706.2">1</text><text x="359.8" y="675.5">6</text><text x="359.8" y="644.9">8</text><text x="359.8" y="614.2">10</text><text x="359.8" y="583.6">12</text><text x="359.8" y="552.9">14</text><text x="359.8" y="522.2">16</text><text x="359.8" y="491.6">18</text><text x="359.8" y="460.9">20</text><text x="359.8" y="430.3">22</text><text x="359.8" y="399.6">24</text></g>
<clipPath id="clipD"><rect x="416.5" y="388.5" width="293.0" height="306.79999999999995"/></clipPath>
<path d="M416.50 388.50V695.30M452.23 388.50V695.30M487.96 388.50V695.30M523.70 388.50V695.30M559.43 388.50V695.30M595.16 388.50V695.30M630.89 388.50V695.30M666.62 388.50V695.30M702.35 388.50V695.30M416.50 395.98H709.50M416.50 433.40H709.50M416.50 470.81H709.50M416.50 508.23H709.50M416.50 545.64H709.50M416.50 583.06H709.50M416.50 620.47H709.50M416.50 657.89H709.50M416.50 695.30H709.50" stroke="#a8a8a8" stroke-width="0.8" stroke-dasharray="1.1 1.35" fill="none" clip-path="url(#clipD)"/>
<g clip-path="url(#clipD)"><g transform="translate(416.500 388.500) scale(0.99864 0.98270) translate(-25.000 -25.100)"><path d="M108.5 53.6 105.7 54.9 103.8 56.6 101.3 59.3 96.9 61.5 95.2 62.2 92.6 65.1 91.0 63.6 87.9 65.1 86.3 64.1 82.6 61.8 81.5 59.3 80.5 55.1 79.4 53.7 75.7 55.1 73.1 56.7 67.3 57.2 62.5 57.7 61.4 58.8 61.1 60.9 61.4 63.0 63.6 62.8 65.7 63.0 66.4 64.6 65.7 66.0 63.6 65.7 61.4 65.7 60.7 67.3 60.4 70.4 60.9 73.1 62.5 74.6 64.1 75.7 64.9 78.9 64.1 84.2 63.0 90.5 61.4 100.0 59.7 102.7 56.2 102.7 51.9 104.2 47.7 105.6 43.5 107.7 40.7 110.5 39.3 114.7 37.9 118.9 35.7 121.8 33.6 125.3 32.5 127.4 33.6 130.2 35.7 134.4 37.9 138.7 38.6 142.2 41.4 142.9 44.2 143.6 45.6 146.4 49.1 147.1 52.6 146.4 55.5 145.0 56.9 142.9 56.9 147.1 56.9 151.3 57.6 154.9 61.8 154.2 66.0 154.2 70.3 154.9 73.1 153.5 75.9 151.3 80.1 149.2 84.3 146.4 87.2 143.6 90.0 142.9 92.1 143.6 94.2 142.2 93.5 147.1 94.2 154.2 97.0 161.2 102.6 164.7 109.7 166.8 114.2 169.6 118.5 173.2 124.1 174.6 127.6 175.3 128.5 178.3 129.9 184.6 130.6 189.6 131.3 194.5 136.9 194.9 143.2 195.2 143.9 199.4 148.2 205.1 149.6 206.5 148.2 210.7 146.8 216.3 146.1 223.4 146.8 230.4 148.2 236.1 153.8 238.9 159.4 240.3 162.3 241.7 163.2 245.0 164.6 249.3 166.0 252.1 168.8 253.5 172.3 254.2 173.0 257.7 172.3 261.2 171.3 264.8 172.7 266.9 175.1 268.3 177.0 270.4 177.3 273.2 177.3 276.7 177.5 278.0 175.8 278.1 170.2 278.8 166.0 281.0 161.8 284.5 158.2 288.7 154.7 292.9 151.9 297.2 149.8 300.0 151.9 301.4 154.7 302.8 158.2 303.5 160.4 305.6 162.5 307.0 165.3 308.4 169.5 309.1 172.3 311.2 174.4 314.1 177.3 316.2 180.1 318.3 182.9 319.7 181.5 322.5 179.4 329.5M108.5 53.6 107.7 52.4 103.5 51.7 102.8 48.7 102.3 45.2 101.3 42.8 99.3 40.8 97.4 37.9M97.4 37.9 99.3 39.3 102.3 39.6 103.8 40.8 106.7 40.6 108.7 40.3 110.2 42.3 112.1 42.5 112.6 40.3 114.1 39.3 117.6 39.3 120.5 38.1 123.0 36.4 126.4 34.0 129.0 30.8 130.6 30.5 131.7 31.9 131.5 34.5 132.2 36.1 133.8 38.2 134.9 40.8 134.3 43.0 132.2 46.7 132.5 50.4 133.6 54.0 134.3 56.7 136.4 58.8 140.1 61.4M140.1 61.4 142.3 60.4 144.4 58.8 146.5 57.7 148.6 56.7 150.7 55.8 154.9 55.8 157.6 55.6 160.2 55.1 160.7 53.5 161.3 52.3 163.4 51.9 165.5 51.4 167.6 50.9 169.5 52.5M169.5 52.5 171.3 53.7 175.6 53.0 178.7 53.0 181.9 54.0 184.0 53.0 186.1 50.4 188.2 46.1 190.4 41.9 191.9 36.6 193.0 36.1 194.6 37.7 195.6 40.8 196.7 46.1 198.3 50.4 199.9 54.6 201.4 56.2 203.0 57.7 204.6 59.9 204.6 63.0 203.0 64.6 201.4 66.2 199.3 68.3 196.7 70.4 195.1 72.5 193.5 74.6 191.9 76.8 190.4 78.9 188.8 79.6 187.2 79.1 186.1 77.3 185.1 74.6 184.0 72.0 183.0 69.4 181.9 66.7 180.8 64.6 179.3 62.8 177.1 60.9 175.0 59.9 172.9 58.3 170.8 56.7 169.4 55.1 169.5 52.5M201.4 66.7 203.6 67.3 205.7 68.1 207.3 69.4 209.4 71.0 212.0 72.0 214.1 73.1 214.6 75.2 215.5 77.3 217.3 75.7 219.4 75.0 222.0 75.5 224.7 76.5 227.3 77.6 230.0 78.7 233.9 79.9 237.9 81.1 240.3 82.1 242.0 83.8 242.8 86.5 243.0 90.5 242.3 93.0 244.0 91.0 246.5 89.5 249.2 89.0 251.2 88.8 254.6 90.2 257.6 91.2 260.5 91.5 262.5 92.0 264.0 93.0 266.7 92.6 269.9 92.1 274.6 92.1 277.3 93.7 280.4 96.3 283.6 98.5 286.5 100.8 289.3 103.2 291.5 105.3 293.3 107.2 296.2 108.3 300.0 108.9 304.0 109.3 306.6 109.6 308.3 110.6 310.3 112.3 311.3 114.1 311.7 116.9 312.0 119.7 311.7 122.5 311.7 125.4 312.0 128.2 311.9 131.0 311.5 133.8 311.0 136.0 310.2 138.2 309.0 139.8 307.3 142.1 305.0 144.9 302.8 147.7 300.5 150.5 297.7 152.8 295.5 155.6 293.4 159.2 291.0 162.5 288.7 166.2 285.5 168.5 283.9 169.6 282.5 173.8 282.3 180.0 282.9 185.1 283.3 191.0 282.5 196.9 281.6 202.0 280.4 205.4 279.1 207.9 277.4 210.4 277.4 213.8 277.4 218.0 276.6 220.6 275.3 222.3 273.2 225.6 270.2 230.7 267.7 234.1 266.0 237.0 263.2 241.0 260.5 243.5 257.5 245.0 254.7 245.9 251.9 246.3 249.1 246.3 246.3 245.9 243.5 246.6 241.3 248.0 239.2 250.1 237.1 252.3 235.0 253.0 231.5 254.2 227.3 255.6 223.0 258.4 218.8 261.2 216.7 264.0 215.3 268.2 214.6 272.5 213.9 276.7 214.6 280.9 213.9 285.1 211.5 288.0 208.5 290.8 206.1 293.0 204.7 293.6 202.6 298.6 200.5 302.8 197.0 308.4 193.5 312.6 189.9 315.5 187.8 318.3 186.4 322.5 184.3 326.7 182.2 330.3 179.4 329.5M108.5 53.6 111.2 55.1 112.1 56.1 112.4 59.0 114.1 61.5 114.5 64.5 114.8 69.4 115.8 72.5 116.4 74.6 114.8 76.8 115.8 78.3 118.0 79.9 119.5 81.0 121.7 82.6 121.1 79.9 121.7 76.8 123.2 74.6 125.4 74.6 126.9 76.8 128.5 75.7 130.1 73.1 131.2 70.4 132.2 68.3 137.5 68.1 139.9 68.1M140.1 61.4 139.9 68.1M139.9 68.1 140.1 72.5 141.2 75.2 143.3 77.3 145.4 79.4 148.1 81.5 150.7 83.6 153.9 85.2 157.0 86.3 159.3 86.8 158.0 89.4 156.8 92.6 155.5 95.8 152.4 103.7 149.6 109.5 148.0 113.3 146.5 117.0 143.8 121.8 144.5 125.3M144.5 125.3 144.0 130.0 143.8 137.3 120.6 137.3M120.6 137.3 118.1 138.0 116.0 137.3 113.9 134.4 111.1 132.3 107.6 132.3 104.8 134.4 102.6 138.0 99.8 140.1 97.0 140.1 95.6 140.8 94.2 142.2M33.6 125.3 42.1 126.7 50.5 128.8 60.4 130.2 64.6 134.4 70.3 138.7 77.3 142.2 84.3 145.7 87.2 143.6M120.6 137.3 120.6 154.2 126.0 154.6 131.8 155.6 132.5 158.5 133.4 164.5 131.5 168.5 130.2 171.0 127.6 175.3M144.5 125.3 147.3 130.2 149.4 135.8 155.1 141.5 166.3 142.9 180.4 144.0 194.5 145.0 201.5 145.4M231.4 79.4 230.7 83.8 230.0 86.8 229.0 89.7 227.8 92.5 226.5 94.5 224.3 99.0 220.9 103.5 217.5 108.0 213.6 111.2M213.6 111.2 211.9 115.9 209.6 122.7 208.5 127.2 206.8 132.8 205.1 137.3 202.9 144.1 201.5 145.4 200.6 150.8 199.5 157.6 199.8 161.5 200.5 165.8 199.2 171.5 197.8 177.0 195.5 183.8 192.5 188.1 189.8 192.3 187.3 195.3 183.4 199.4 181.3 203.7 182.0 208.6M200.5 166.5 203.0 168.2 205.0 170.1 208.4 169.3 210.1 168.5 211.8 169.3 214.3 171.4 217.7 171.8 220.2 173.1 222.8 171.8 226.1 170.1 228.7 168.9 229.9 168.5M233.3 149.2 231.8 151.3 230.4 154.1 229.6 158.3 230.2 162.5 229.9 168.5M229.9 168.5 230.4 171.0 230.8 173.5 230.6 177.0 231.2 180.3 232.1 182.8 232.5 186.2M149.6 206.5 153.8 204.4 159.4 202.3 165.1 203.7 170.7 205.1 174.2 204.4 177.0 202.3 176.3 206.5 179.2 207.9 182.0 208.6M182.0 208.6 184.1 210.7 187.6 212.8 191.8 215.6 195.2 219.8M195.2 219.8 193.2 226.2 190.4 231.8 186.2 238.2 182.0 243.1 177.7 247.3 174.9 251.5 172.3 254.2M195.2 219.8 199.1 216.1 203.3 213.3 205.0 213.3 208.4 212.0 211.8 210.7 215.1 210.3 218.5 210.3 221.9 210.3 222.8 208.2 222.3 206.1 221.5 204.0 222.3 201.4 223.6 198.9 223.2 196.3 223.2 193.0 224.0 190.0 224.9 187.9 225.3 185.8 227.0 184.9 228.7 184.5 230.4 185.4 232.5 186.2M195.2 220.6 200.5 221.8 204.7 222.5 208.9 223.9 213.2 224.6 218.8 223.9 222.3 224.6 223.0 228.8 225.1 232.3 226.5 235.8 228.0 240.1 230.1 243.6 233.6 244.3 237.1 242.9 239.2 241.7 243.5 240.3 247.7 238.9 250.5 237.5M250.5 237.5 254.3 235.8 258.5 233.0 262.7 230.1 265.6 228.7 267.0 226.0M240.8 241.4 241.5 244.5 241.3 248.0M273.2 206.6 271.9 207.5 269.0 207.9 266.8 209.6 266.8 212.1 267.3 214.7 268.1 217.2 267.7 219.7 266.8 222.3 266.3 224.5 267.0 226.0M273.2 206.6 275.5 208.5 277.4 210.4M267.0 226.0 268.0 229.5 268.1 233.2M231.8 186.5 236.0 183.7 240.2 181.5 244.4 180.1 248.7 180.8 252.9 182.3 258.5 185.1 260.1 185.5 263.5 186.8 265.1 189.3 268.5 190.6 271.9 191.0 274.9 192.7 276.1 194.0 274.0 197.8 271.9 199.4 271.1 202.0 271.5 204.5 273.2 206.6M265.6 92.9 266.2 96.9 266.7 102.1 267.2 106.4 267.7 110.6 268.3 114.8 269.4 120.5 272.0 122.7 272.3 124.4 271.4 126.4M262.5 92.0 262.0 93.2 260.2 95.2 257.4 97.3 255.6 99.0 254.3 101.8 253.8 104.6 254.0 110.5 253.5 115.3 253.9 117.6 254.3 119.9 253.4 121.9 250.5 122.5 247.7 123.3 245.7 123.8 243.5 124.5 241.2 126.1 239.2 126.8 237.2 128.4 234.6 131.3 233.3 137.3 232.7 143.0 233.3 149.2M213.6 111.2 217.5 111.4 220.9 112.0 222.0 114.8 222.6 119.3 222.0 123.8 223.7 129.4 226.0 131.1 228.2 132.8 227.1 136.2 225.4 139.6 226.5 143.0 228.8 146.3 231.1 148.6 233.3 149.2M233.3 149.2 235.6 150.8 237.8 152.5 240.1 151.4 243.5 148.6 246.8 145.2 250.2 143.0 252.8 143.0 255.6 144.1 259.6 142.4 262.4 140.7 264.6 138.5 266.3 136.8 268.0 135.1 269.7 133.4 271.1 131.2 270.8 128.9 271.4 126.4M266.3 136.8 269.2 139.0 271.5 140.8 273.7 140.7 275.9 139.0 279.3 136.2 281.5 136.8 284.9 138.5 287.2 139.6 290.0 141.0 293.0 142.0 296.5 142.6M296.5 142.6 300.5 141.0 302.8 139.3 306.2 138.4 309.5 138.4 310.2 138.2M296.5 142.6 298.5 145.5 300.5 148.5 301.0 150.3M294.5 143.5 293.2 144.9 291.0 146.6 290.4 148.3 291.2 150.5 291.0 152.0 290.3 154.0 291.5 156.0 293.4 159.0M271.4 126.4 274.2 126.6 277.0 126.9 279.9 128.3 282.4 130.3M282.4 130.3 284.4 128.9 285.2 126.0 284.9 123.5 285.0 120.5 285.6 117.6M285.6 117.6 287.0 115.1 289.1 112.3 291.2 109.2 293.0 107.4M285.6 117.6 286.0 119.0 288.4 118.7 291.2 117.6 293.7 116.5 295.1 117.3 294.1 119.0 293.7 120.8 295.5 121.8 298.3 122.9 300.4 122.2 301.1 120.4 303.2 119.7 306.0 120.1 308.8 120.4 311.7 120.4M282.4 130.3 284.9 129.4 288.4 129.6 291.2 128.2 294.1 126.8 295.8 126.8 296.2 128.2 295.8 130.3 297.6 131.0 299.7 130.3 302.5 128.9 305.3 128.2 307.4 127.5 309.5 127.1 311.7 127.1M182.0 243.1 187.6 242.4 190.6 243.6 194.2 244.3 196.3 244.3 201.9 245.7 204.0 245.7 206.1 248.5 206.8 252.0 207.5 252.7 208.9 257.0 209.6 257.7 213.2 259.8 215.3 261.2 216.7 262.6M177.0 270.4 180.1 271.8 185.7 272.5 191.3 273.2 195.6 272.5 199.8 271.8 204.0 271.1 208.2 270.4 212.5 269.7 214.6 268.9M177.5 278.0 180.1 277.9 184.3 278.8 189.9 279.5 192.0 279.5 195.6 281.0 197.7 281.6 199.8 283.1 201.9 285.1 202.6 286.6 204.0 289.4 204.7 292.2 204.7 293.6M216.3 188.8 222.9 188.8 222.9 192.9 216.3 192.9 216.3 188.8" fill="none" stroke="#9c9c9c" stroke-width="0.8" stroke-linejoin="round" vector-effect="non-scaling-stroke"/></g></g>
<g><circle cx="473.1" cy="434.3" r="3.2" fill="#a020f0"/><circle cx="479.9" cy="452.3" r="3.2" fill="#ffff00"/><circle cx="508.9" cy="462.1" r="3.2" fill="#ffff00"/><circle cx="523.3" cy="456.8" r="3.2" fill="#ffff00"/><circle cx="534.6" cy="457.0" r="3.2" fill="#ffff00"/><circle cx="552.2" cy="465.4" r="3.2" fill="#ffff00"/><circle cx="559.6" cy="453.3" r="3.2" fill="#a020f0"/><circle cx="565.6" cy="448.2" r="3.2" fill="#70f080"/><circle cx="579.0" cy="446.5" r="3.2" fill="#70f080"/><circle cx="587.1" cy="433.6" r="3.2" fill="#70f080"/><circle cx="598.6" cy="450.2" r="3.2" fill="#70f080"/><circle cx="606.1" cy="444.1" r="3.2" fill="#70f080"/><circle cx="617.3" cy="441.4" r="3.2" fill="#70f080"/><circle cx="628.0" cy="446.0" r="3.2" fill="#a020f0"/><circle cx="626.2" cy="457.9" r="3.2" fill="#ffff00"/><circle cx="636.3" cy="452.3" r="3.2" fill="#70f080"/><circle cx="642.4" cy="461.4" r="3.2" fill="#a020f0"/><circle cx="629.1" cy="474.5" r="3.2" fill="#a020f0"/><circle cx="636.1" cy="478.5" r="3.2" fill="#a020f0"/><circle cx="678.1" cy="471.8" r="3.2" fill="#a020f0"/><circle cx="700.8" cy="477.0" r="3.2" fill="#0050ff"/><circle cx="703.1" cy="486.7" r="3.2" fill="#2af2c8"/><circle cx="696.3" cy="492.1" r="3.2" fill="#2af2c8"/><circle cx="687.2" cy="496.6" r="3.2" fill="#70f080"/><circle cx="650.2" cy="496.0" r="3.2" fill="#d00000"/><circle cx="662.7" cy="503.7" r="3.2" fill="#ffff00"/><circle cx="681.0" cy="502.9" r="3.2" fill="#a020f0"/><circle cx="690.5" cy="504.0" r="3.2" fill="#2af2c8"/><circle cx="689.0" cy="510.0" r="3.2" fill="#a020f0"/><circle cx="676.7" cy="516.4" r="3.2" fill="#70f080"/><circle cx="682.0" cy="517.7" r="3.2" fill="#2af2c8"/><circle cx="446.7" cy="494.5" r="3.2" fill="#ffff00"/><circle cx="607.6" cy="486.6" r="3.2" fill="#70f080"/><circle cx="613.2" cy="488.6" r="3.2" fill="#ffff00"/><circle cx="600.2" cy="495.2" r="3.2" fill="#a020f0"/><circle cx="607.8" cy="500.6" r="3.2" fill="#ffff00"/><circle cx="605.4" cy="523.3" r="3.2" fill="#ffff00"/><circle cx="620.3" cy="526.4" r="3.2" fill="#a020f0"/><circle cx="658.2" cy="519.8" r="3.2" fill="#2af2c8"/><circle cx="656.6" cy="527.5" r="3.2" fill="#70f080"/><circle cx="642.0" cy="532.6" r="3.2" fill="#a020f0"/><circle cx="620.8" cy="538.8" r="3.2" fill="#2af2c8"/><circle cx="660.7" cy="544.7" r="3.2" fill="#2af2c8"/><circle cx="635.2" cy="549.2" r="3.2" fill="#ffff00"/><circle cx="602.1" cy="552.0" r="3.2" fill="#ffff00"/><circle cx="609.7" cy="551.5" r="3.2" fill="#00b0ff"/><circle cx="614.1" cy="549.6" r="3.2" fill="#70f080"/><circle cx="622.7" cy="552.6" r="3.2" fill="#ffff00"/><circle cx="617.0" cy="556.2" r="3.2" fill="#70f080"/><circle cx="600.0" cy="558.2" r="3.2" fill="#ffff00"/><circle cx="650.1" cy="554.0" r="3.2" fill="#ffff00"/><circle cx="638.9" cy="558.2" r="3.2" fill="#70f080"/><circle cx="651.8" cy="559.6" r="3.2" fill="#d00000"/><circle cx="668.0" cy="557.4" r="3.2" fill="#70f080"/><circle cx="644.8" cy="564.2" r="3.2" fill="#a020f0"/><circle cx="646.1" cy="567.2" r="3.2" fill="#70f080"/><circle cx="609.6" cy="569.3" r="3.2" fill="#70f080"/><circle cx="608.1" cy="566.2" r="3.2" fill="#ffff00"/><circle cx="582.7" cy="567.6" r="3.2" fill="#70f080"/><circle cx="578.9" cy="552.5" r="3.2" fill="#ffbb00"/><circle cx="551.3" cy="549.5" r="3.2" fill="#ff6600"/><circle cx="551.4" cy="551.5" r="3.2" fill="#ffbb00"/><circle cx="586.4" cy="580.6" r="3.2" fill="#ffff00"/><circle cx="642.0" cy="576.0" r="3.2" fill="#70f080"/><circle cx="638.2" cy="582.8" r="3.2" fill="#70f080"/><circle cx="651.2" cy="581.2" r="3.2" fill="#70f080"/><circle cx="656.3" cy="586.7" r="3.2" fill="#ffff00"/><circle cx="664.2" cy="585.6" r="3.2" fill="#70f080"/><circle cx="613.4" cy="587.7" r="3.2" fill="#2af2c8"/><circle cx="612.2" cy="594.4" r="3.2" fill="#ffbb00"/><circle cx="630.8" cy="592.3" r="3.2" fill="#2af2c8"/><circle cx="630.4" cy="599.2" r="3.2" fill="#2af2c8"/><circle cx="652.8" cy="592.2" r="3.2" fill="#ff6600"/><circle cx="642.4" cy="596.3" r="3.2" fill="#2af2c8"/><circle cx="649.4" cy="598.4" r="3.2" fill="#70f080"/><circle cx="656.8" cy="596.3" r="3.2" fill="#ffff00"/><circle cx="645.3" cy="601.2" r="3.2" fill="#2af2c8"/><circle cx="643.1" cy="605.4" r="3.2" fill="#70f080"/><circle cx="650.8" cy="604.4" r="3.2" fill="#ffff00"/><circle cx="619.2" cy="609.4" r="3.2" fill="#70f080"/><circle cx="581.2" cy="608.6" r="3.2" fill="#70f080"/><circle cx="586.9" cy="608.2" r="3.2" fill="#a020f0"/><circle cx="590.4" cy="624.3" r="3.2" fill="#a020f0"/><circle cx="559.7" cy="646.2" r="3.2" fill="#ffbb00"/><circle cx="569.3" cy="647.8" r="3.2" fill="#ffff00"/><circle cx="577.8" cy="644.8" r="3.2" fill="#a020f0"/><circle cx="591.8" cy="648.1" r="3.2" fill="#a020f0"/><circle cx="586.5" cy="651.8" r="3.2" fill="#a020f0"/><circle cx="568.3" cy="656.1" r="3.2" fill="#a020f0"/><circle cx="586.6" cy="658.6" r="3.2" fill="#70f080"/><circle cx="565.5" cy="668.0" r="3.2" fill="#a020f0"/><circle cx="577.8" cy="671.5" r="3.2" fill="#2af2c8"/><circle cx="571.1" cy="684.7" r="3.2" fill="#a020f0"/></g>
<rect x="416.5" y="388.5" width="293.0" height="306.79999999999995" fill="none" stroke="#888888" stroke-width="1.2"/>
<g font-family="'DejaVu Sans Condensed', 'DejaVu Sans', sans-serif" font-size="9.2" font-stretch="condensed" fill="#222" stroke="#222" stroke-width="0.15"><text x="413.2" y="398.9" text-anchor="end">5°N</text><text x="413.2" y="436.3" text-anchor="end">0°</text><text x="413.2" y="473.7" text-anchor="end">5°S</text><text x="413.2" y="511.1" text-anchor="end">10°S</text><text x="413.2" y="548.5" text-anchor="end">15°S</text><text x="413.2" y="586.0" text-anchor="end">20°S</text><text x="413.2" y="623.4" text-anchor="end">25°S</text><text x="413.2" y="660.8" text-anchor="end">30°S</text><text x="413.2" y="698.2" text-anchor="end">35°S</text><text x="416.5" y="705.3" text-anchor="middle">75°W</text><text x="452.2" y="705.3" text-anchor="middle">70°W</text><text x="488.0" y="705.3" text-anchor="middle">65°W</text><text x="523.7" y="705.3" text-anchor="middle">60°W</text><text x="559.4" y="705.3" text-anchor="middle">55°W</text><text x="595.2" y="705.3" text-anchor="middle">50°W</text><text x="630.9" y="705.3" text-anchor="middle">45°W</text><text x="666.6" y="705.3" text-anchor="middle">40°W</text><text x="702.4" y="705.3" text-anchor="middle">35°W</text></g>
<text transform="translate(566.4 375.1) scale(0.96 1)" text-anchor="middle" font-family="'Liberation Serif', 'DejaVu Serif', serif" font-size="17.7" fill="#000">(D)</text>
<rect x="727.9" y="654.18" width="15.30" height="32.42" fill="#0000c8"/><rect x="727.9" y="622.06" width="15.30" height="32.42" fill="#0050ff"/><rect x="727.9" y="589.93" width="15.30" height="32.42" fill="#00b0ff"/><rect x="727.9" y="557.81" width="15.30" height="32.42" fill="#2af2c8"/><rect x="727.9" y="525.69" width="15.30" height="32.42" fill="#70f080"/><rect x="727.9" y="493.57" width="15.30" height="32.42" fill="#ffff00"/><rect x="727.9" y="461.44" width="15.30" height="32.42" fill="#ffbb00"/><rect x="727.9" y="429.32" width="15.30" height="32.42" fill="#ff6600"/><rect x="727.9" y="397.20" width="15.30" height="32.42" fill="#d00000"/><polygon points="727.9,397.20 743.2,397.20 735.55,382.7" fill="#800000"/><polygon points="727.9,686.30 743.2,686.30 735.55,700.7" fill="#a020f0"/><polygon points="727.9,397.2 735.55,382.7 743.2,397.2 743.2,686.3 735.55,700.7 727.9,686.3" fill="none" stroke="#666" stroke-width="0.6"/><path d="M743.20 686.30h2M743.20 654.18h2M743.20 622.06h2M743.20 589.93h2M743.20 557.81h2M743.20 525.69h2M743.20 493.57h2M743.20 461.44h2M743.20 429.32h2M743.20 397.20h2" stroke="#333" stroke-width="0.7"/><g font-family="'DejaVu Sans Condensed', 'DejaVu Sans', sans-serif" font-size="9.2" font-stretch="condensed" fill="#222" stroke="#222" stroke-width="0.15"><text x="747.4" y="689.8">26</text><text x="747.4" y="657.7">28</text><text x="747.4" y="625.6">30</text><text x="747.4" y="593.4">32</text><text x="747.4" y="561.3">34</text><text x="747.4" y="529.2">36</text><text x="747.4" y="497.1">38</text><text x="747.4" y="464.9">39</text><text x="747.4" y="432.8">40</text><text x="747.4" y="400.7">42</text></g>
</svg>
</body></html>
